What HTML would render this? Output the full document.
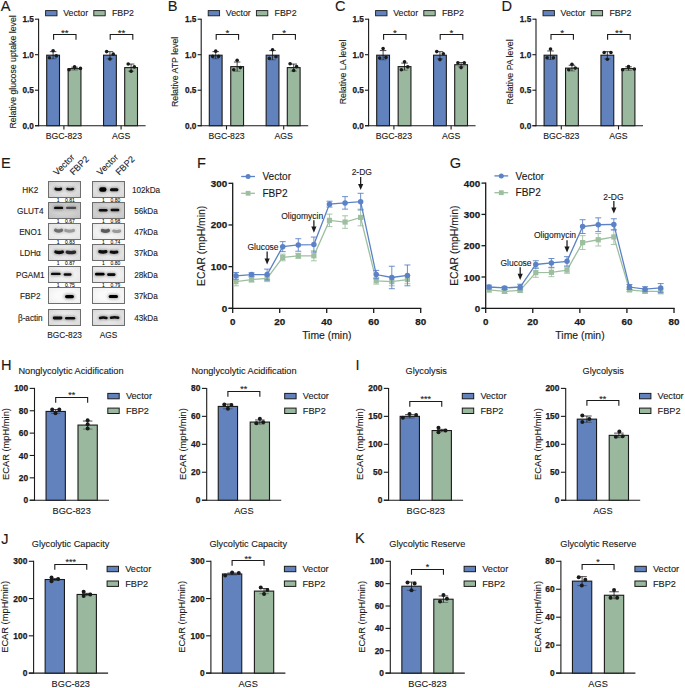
<!DOCTYPE html><html><head><meta charset="utf-8"><style>html,body{margin:0;padding:0;background:#fff;width:685px;height:688px;overflow:hidden}svg{display:block}</style></head><body><svg width="685" height="688" viewBox="0 0 685 688" font-family='"Liberation Sans", sans-serif'>
<rect width="685" height="688" fill="#fff"/>
<text x="0.80" y="11.00" font-size="14.6" text-anchor="start" fill="#1a1a1a" stroke="#1a1a1a" stroke-width="0.12">A</text>
<text x="167.80" y="10.90" font-size="14.6" text-anchor="start" fill="#1a1a1a" stroke="#1a1a1a" stroke-width="0.12">B</text>
<text x="335.00" y="10.90" font-size="14.6" text-anchor="start" fill="#1a1a1a" stroke="#1a1a1a" stroke-width="0.12">C</text>
<text x="501.50" y="10.90" font-size="14.6" text-anchor="start" fill="#1a1a1a" stroke="#1a1a1a" stroke-width="0.12">D</text>
<line x1="38.60" y1="18.70" x2="38.60" y2="126.20" stroke="#1a1a1a" stroke-width="1.1"/>
<line x1="35.00" y1="125.70" x2="38.60" y2="125.70" stroke="#1a1a1a" stroke-width="1.1"/>
<text x="33.80" y="128.65" font-size="8.2" font-weight="bold" text-anchor="end" fill="#1a1a1a" stroke="#1a1a1a" stroke-width="0.25">0.0</text>
<line x1="35.00" y1="90.20" x2="38.60" y2="90.20" stroke="#1a1a1a" stroke-width="1.1"/>
<text x="33.80" y="93.15" font-size="8.2" font-weight="bold" text-anchor="end" fill="#1a1a1a" stroke="#1a1a1a" stroke-width="0.25">0.5</text>
<line x1="35.00" y1="54.70" x2="38.60" y2="54.70" stroke="#1a1a1a" stroke-width="1.1"/>
<text x="33.80" y="57.65" font-size="8.2" font-weight="bold" text-anchor="end" fill="#1a1a1a" stroke="#1a1a1a" stroke-width="0.25">1.0</text>
<line x1="35.00" y1="19.20" x2="38.60" y2="19.20" stroke="#1a1a1a" stroke-width="1.1"/>
<text x="33.80" y="22.15" font-size="8.2" font-weight="bold" text-anchor="end" fill="#1a1a1a" stroke="#1a1a1a" stroke-width="0.25">1.5</text>
<line x1="35.00" y1="125.70" x2="145.60" y2="125.70" stroke="#1a1a1a" stroke-width="1.1"/>
<rect x="46.70" y="55.20" width="12.80" height="70.50" fill="#6282bd" stroke="#1a1a1a" stroke-width="1.1"/>
<line x1="53.10" y1="51.65" x2="53.10" y2="58.75" stroke="#1a1a1a" stroke-width="0.8"/>
<line x1="49.85" y1="51.65" x2="56.35" y2="51.65" stroke="#1a1a1a" stroke-width="0.8"/>
<line x1="49.85" y1="58.75" x2="56.35" y2="58.75" stroke="#000" stroke-width="0.8" stroke-opacity="0.45"/>
<circle cx="53.10" cy="50.80" r="1.80" fill="#1a1a1a" stroke="none" stroke-width="0"/>
<circle cx="49.40" cy="57.82" r="1.80" fill="#1a1a1a" stroke="none" stroke-width="0"/>
<circle cx="56.30" cy="55.91" r="1.80" fill="#1a1a1a" stroke="none" stroke-width="0"/>
<rect x="68.15" y="68.62" width="12.80" height="57.08" fill="#9ab89d" stroke="#1a1a1a" stroke-width="1.1"/>
<line x1="74.55" y1="67.20" x2="74.55" y2="70.04" stroke="#1a1a1a" stroke-width="0.8"/>
<line x1="71.30" y1="67.20" x2="77.80" y2="67.20" stroke="#1a1a1a" stroke-width="0.8"/>
<line x1="71.30" y1="70.04" x2="77.80" y2="70.04" stroke="#000" stroke-width="0.8" stroke-opacity="0.45"/>
<circle cx="74.55" cy="66.91" r="1.80" fill="#1a1a1a" stroke="none" stroke-width="0"/>
<circle cx="69.05" cy="69.82" r="1.80" fill="#1a1a1a" stroke="none" stroke-width="0"/>
<circle cx="80.45" cy="68.40" r="1.80" fill="#1a1a1a" stroke="none" stroke-width="0"/>
<rect x="103.55" y="55.20" width="12.80" height="70.50" fill="#6282bd" stroke="#1a1a1a" stroke-width="1.1"/>
<line x1="109.95" y1="51.65" x2="109.95" y2="58.75" stroke="#1a1a1a" stroke-width="0.8"/>
<line x1="106.70" y1="51.65" x2="113.20" y2="51.65" stroke="#1a1a1a" stroke-width="0.8"/>
<line x1="106.70" y1="58.75" x2="113.20" y2="58.75" stroke="#000" stroke-width="0.8" stroke-opacity="0.45"/>
<circle cx="106.65" cy="51.58" r="1.80" fill="#1a1a1a" stroke="none" stroke-width="0"/>
<circle cx="113.25" cy="54.13" r="1.80" fill="#1a1a1a" stroke="none" stroke-width="0"/>
<circle cx="109.95" cy="58.96" r="1.80" fill="#1a1a1a" stroke="none" stroke-width="0"/>
<rect x="124.70" y="67.62" width="12.80" height="58.08" fill="#9ab89d" stroke="#1a1a1a" stroke-width="1.1"/>
<line x1="131.10" y1="64.07" x2="131.10" y2="71.17" stroke="#1a1a1a" stroke-width="0.8"/>
<line x1="127.85" y1="64.07" x2="134.35" y2="64.07" stroke="#1a1a1a" stroke-width="0.8"/>
<line x1="127.85" y1="71.17" x2="134.35" y2="71.17" stroke="#000" stroke-width="0.8" stroke-opacity="0.45"/>
<circle cx="128.20" cy="64.00" r="1.80" fill="#1a1a1a" stroke="none" stroke-width="0"/>
<circle cx="134.30" cy="66.91" r="1.80" fill="#1a1a1a" stroke="none" stroke-width="0"/>
<circle cx="131.10" cy="71.31" r="1.80" fill="#1a1a1a" stroke="none" stroke-width="0"/>
<line x1="63.90" y1="125.70" x2="63.90" y2="129.50" stroke="#1a1a1a" stroke-width="1.1"/>
<text x="63.90" y="139.00" font-size="8.7" text-anchor="middle" fill="#1a1a1a" stroke="#1a1a1a" stroke-width="0.12">BGC-823</text>
<line x1="121.10" y1="125.70" x2="121.10" y2="129.50" stroke="#1a1a1a" stroke-width="1.1"/>
<text x="121.10" y="139.00" font-size="8.7" text-anchor="middle" fill="#1a1a1a" stroke="#1a1a1a" stroke-width="0.12">AGS</text>
<polyline points="53.60,39.70 53.60,34.50 76.00,34.50 76.00,39.70" fill="none" stroke="#1a1a1a" stroke-width="1.1"/>
<text x="64.80" y="36.25" font-size="9.8" text-anchor="middle" fill="#1a1a1a" stroke="#1a1a1a" stroke-width="0.12">**</text>
<polyline points="110.20,39.70 110.20,34.50 132.80,34.50 132.80,39.70" fill="none" stroke="#1a1a1a" stroke-width="1.1"/>
<text x="121.50" y="36.25" font-size="9.8" text-anchor="middle" fill="#1a1a1a" stroke="#1a1a1a" stroke-width="0.12">**</text>
<text x="15.60" y="71.90" font-size="8.75" text-anchor="middle" fill="#1a1a1a" transform="rotate(-90 15.60 71.90)" stroke="#1a1a1a" stroke-width="0.12">Relative glucose uptake level</text>
<rect x="45.60" y="10.60" width="11.40" height="5.20" fill="#6282bd" stroke="#1a1a1a" stroke-width="0.9"/>
<text x="63.20" y="16.30" font-size="8.8" text-anchor="start" fill="#1a1a1a" stroke="#1a1a1a" stroke-width="0.12">Vector</text>
<rect x="93.80" y="10.60" width="11.40" height="5.20" fill="#9ab89d" stroke="#1a1a1a" stroke-width="0.9"/>
<text x="112.00" y="16.30" font-size="8.8" text-anchor="start" fill="#1a1a1a" stroke="#1a1a1a" stroke-width="0.12">FBP2</text>
<line x1="201.20" y1="18.70" x2="201.20" y2="126.20" stroke="#1a1a1a" stroke-width="1.1"/>
<line x1="197.60" y1="125.70" x2="201.20" y2="125.70" stroke="#1a1a1a" stroke-width="1.1"/>
<text x="196.40" y="128.65" font-size="8.2" font-weight="bold" text-anchor="end" fill="#1a1a1a" stroke="#1a1a1a" stroke-width="0.25">0.0</text>
<line x1="197.60" y1="90.20" x2="201.20" y2="90.20" stroke="#1a1a1a" stroke-width="1.1"/>
<text x="196.40" y="93.15" font-size="8.2" font-weight="bold" text-anchor="end" fill="#1a1a1a" stroke="#1a1a1a" stroke-width="0.25">0.5</text>
<line x1="197.60" y1="54.70" x2="201.20" y2="54.70" stroke="#1a1a1a" stroke-width="1.1"/>
<text x="196.40" y="57.65" font-size="8.2" font-weight="bold" text-anchor="end" fill="#1a1a1a" stroke="#1a1a1a" stroke-width="0.25">1.0</text>
<line x1="197.60" y1="19.20" x2="201.20" y2="19.20" stroke="#1a1a1a" stroke-width="1.1"/>
<text x="196.40" y="22.15" font-size="8.2" font-weight="bold" text-anchor="end" fill="#1a1a1a" stroke="#1a1a1a" stroke-width="0.25">1.5</text>
<line x1="197.60" y1="125.70" x2="308.20" y2="125.70" stroke="#1a1a1a" stroke-width="1.1"/>
<rect x="209.30" y="55.20" width="12.80" height="70.50" fill="#6282bd" stroke="#1a1a1a" stroke-width="1.1"/>
<line x1="215.70" y1="51.65" x2="215.70" y2="58.75" stroke="#1a1a1a" stroke-width="0.8"/>
<line x1="212.45" y1="51.65" x2="218.95" y2="51.65" stroke="#1a1a1a" stroke-width="0.8"/>
<line x1="212.45" y1="58.75" x2="218.95" y2="58.75" stroke="#000" stroke-width="0.8" stroke-opacity="0.45"/>
<circle cx="215.70" cy="51.15" r="1.80" fill="#1a1a1a" stroke="none" stroke-width="0"/>
<circle cx="212.70" cy="56.40" r="1.80" fill="#1a1a1a" stroke="none" stroke-width="0"/>
<circle cx="218.60" cy="56.40" r="1.80" fill="#1a1a1a" stroke="none" stroke-width="0"/>
<rect x="230.75" y="66.63" width="12.80" height="59.07" fill="#9ab89d" stroke="#1a1a1a" stroke-width="1.1"/>
<line x1="237.15" y1="62.01" x2="237.15" y2="71.24" stroke="#1a1a1a" stroke-width="0.8"/>
<line x1="233.90" y1="62.01" x2="240.40" y2="62.01" stroke="#1a1a1a" stroke-width="0.8"/>
<line x1="233.90" y1="71.24" x2="240.40" y2="71.24" stroke="#000" stroke-width="0.8" stroke-opacity="0.45"/>
<circle cx="237.15" cy="60.31" r="1.80" fill="#1a1a1a" stroke="none" stroke-width="0"/>
<circle cx="233.75" cy="69.82" r="1.80" fill="#1a1a1a" stroke="none" stroke-width="0"/>
<circle cx="240.35" cy="67.62" r="1.80" fill="#1a1a1a" stroke="none" stroke-width="0"/>
<rect x="266.15" y="55.20" width="12.80" height="70.50" fill="#6282bd" stroke="#1a1a1a" stroke-width="1.1"/>
<line x1="272.55" y1="50.58" x2="272.55" y2="59.81" stroke="#1a1a1a" stroke-width="0.8"/>
<line x1="269.30" y1="50.58" x2="275.80" y2="50.58" stroke="#1a1a1a" stroke-width="0.8"/>
<line x1="269.30" y1="59.81" x2="275.80" y2="59.81" stroke="#000" stroke-width="0.8" stroke-opacity="0.45"/>
<circle cx="272.55" cy="49.73" r="1.80" fill="#1a1a1a" stroke="none" stroke-width="0"/>
<circle cx="269.35" cy="58.39" r="1.80" fill="#1a1a1a" stroke="none" stroke-width="0"/>
<circle cx="275.95" cy="56.69" r="1.80" fill="#1a1a1a" stroke="none" stroke-width="0"/>
<rect x="287.30" y="67.62" width="12.80" height="58.08" fill="#9ab89d" stroke="#1a1a1a" stroke-width="1.1"/>
<line x1="293.70" y1="64.07" x2="293.70" y2="71.17" stroke="#1a1a1a" stroke-width="0.8"/>
<line x1="290.45" y1="64.07" x2="296.95" y2="64.07" stroke="#1a1a1a" stroke-width="0.8"/>
<line x1="290.45" y1="71.17" x2="296.95" y2="71.17" stroke="#000" stroke-width="0.8" stroke-opacity="0.45"/>
<circle cx="290.10" cy="63.72" r="1.80" fill="#1a1a1a" stroke="none" stroke-width="0"/>
<circle cx="296.60" cy="66.63" r="1.80" fill="#1a1a1a" stroke="none" stroke-width="0"/>
<circle cx="293.70" cy="70.53" r="1.80" fill="#1a1a1a" stroke="none" stroke-width="0"/>
<line x1="226.50" y1="125.70" x2="226.50" y2="129.50" stroke="#1a1a1a" stroke-width="1.1"/>
<text x="226.50" y="139.00" font-size="8.7" text-anchor="middle" fill="#1a1a1a" stroke="#1a1a1a" stroke-width="0.12">BGC-823</text>
<line x1="283.70" y1="125.70" x2="283.70" y2="129.50" stroke="#1a1a1a" stroke-width="1.1"/>
<text x="283.70" y="139.00" font-size="8.7" text-anchor="middle" fill="#1a1a1a" stroke="#1a1a1a" stroke-width="0.12">AGS</text>
<polyline points="216.20,39.70 216.20,34.50 238.60,34.50 238.60,39.70" fill="none" stroke="#1a1a1a" stroke-width="1.1"/>
<text x="227.40" y="36.25" font-size="9.8" text-anchor="middle" fill="#1a1a1a" stroke="#1a1a1a" stroke-width="0.12">*</text>
<polyline points="272.80,39.70 272.80,34.50 295.40,34.50 295.40,39.70" fill="none" stroke="#1a1a1a" stroke-width="1.1"/>
<text x="284.10" y="36.25" font-size="9.8" text-anchor="middle" fill="#1a1a1a" stroke="#1a1a1a" stroke-width="0.12">*</text>
<text x="178.20" y="71.90" font-size="8.75" text-anchor="middle" fill="#1a1a1a" transform="rotate(-90 178.20 71.90)" stroke="#1a1a1a" stroke-width="0.12">Relative ATP level</text>
<rect x="208.20" y="10.60" width="11.40" height="5.20" fill="#6282bd" stroke="#1a1a1a" stroke-width="0.9"/>
<text x="225.80" y="16.30" font-size="8.8" text-anchor="start" fill="#1a1a1a" stroke="#1a1a1a" stroke-width="0.12">Vector</text>
<rect x="256.40" y="10.60" width="11.40" height="5.20" fill="#9ab89d" stroke="#1a1a1a" stroke-width="0.9"/>
<text x="274.60" y="16.30" font-size="8.8" text-anchor="start" fill="#1a1a1a" stroke="#1a1a1a" stroke-width="0.12">FBP2</text>
<line x1="368.60" y1="18.70" x2="368.60" y2="126.20" stroke="#1a1a1a" stroke-width="1.1"/>
<line x1="365.00" y1="125.70" x2="368.60" y2="125.70" stroke="#1a1a1a" stroke-width="1.1"/>
<text x="363.80" y="128.65" font-size="8.2" font-weight="bold" text-anchor="end" fill="#1a1a1a" stroke="#1a1a1a" stroke-width="0.25">0.0</text>
<line x1="365.00" y1="90.20" x2="368.60" y2="90.20" stroke="#1a1a1a" stroke-width="1.1"/>
<text x="363.80" y="93.15" font-size="8.2" font-weight="bold" text-anchor="end" fill="#1a1a1a" stroke="#1a1a1a" stroke-width="0.25">0.5</text>
<line x1="365.00" y1="54.70" x2="368.60" y2="54.70" stroke="#1a1a1a" stroke-width="1.1"/>
<text x="363.80" y="57.65" font-size="8.2" font-weight="bold" text-anchor="end" fill="#1a1a1a" stroke="#1a1a1a" stroke-width="0.25">1.0</text>
<line x1="365.00" y1="19.20" x2="368.60" y2="19.20" stroke="#1a1a1a" stroke-width="1.1"/>
<text x="363.80" y="22.15" font-size="8.2" font-weight="bold" text-anchor="end" fill="#1a1a1a" stroke="#1a1a1a" stroke-width="0.25">1.5</text>
<line x1="365.00" y1="125.70" x2="475.60" y2="125.70" stroke="#1a1a1a" stroke-width="1.1"/>
<rect x="376.70" y="55.20" width="12.80" height="70.50" fill="#6282bd" stroke="#1a1a1a" stroke-width="1.1"/>
<line x1="383.10" y1="50.58" x2="383.10" y2="59.81" stroke="#1a1a1a" stroke-width="0.8"/>
<line x1="379.85" y1="50.58" x2="386.35" y2="50.58" stroke="#1a1a1a" stroke-width="0.8"/>
<line x1="379.85" y1="59.81" x2="386.35" y2="59.81" stroke="#000" stroke-width="0.8" stroke-opacity="0.45"/>
<circle cx="383.10" cy="48.59" r="1.80" fill="#1a1a1a" stroke="none" stroke-width="0"/>
<circle cx="379.70" cy="58.11" r="1.80" fill="#1a1a1a" stroke="none" stroke-width="0"/>
<circle cx="386.00" cy="57.40" r="1.80" fill="#1a1a1a" stroke="none" stroke-width="0"/>
<rect x="398.15" y="66.63" width="12.80" height="59.07" fill="#9ab89d" stroke="#1a1a1a" stroke-width="1.1"/>
<line x1="404.55" y1="63.08" x2="404.55" y2="70.18" stroke="#1a1a1a" stroke-width="0.8"/>
<line x1="401.30" y1="63.08" x2="407.80" y2="63.08" stroke="#1a1a1a" stroke-width="0.8"/>
<line x1="401.30" y1="70.18" x2="407.80" y2="70.18" stroke="#000" stroke-width="0.8" stroke-opacity="0.45"/>
<circle cx="404.55" cy="61.80" r="1.80" fill="#1a1a1a" stroke="none" stroke-width="0"/>
<circle cx="401.35" cy="69.82" r="1.80" fill="#1a1a1a" stroke="none" stroke-width="0"/>
<circle cx="407.75" cy="66.91" r="1.80" fill="#1a1a1a" stroke="none" stroke-width="0"/>
<rect x="433.55" y="55.20" width="12.80" height="70.50" fill="#6282bd" stroke="#1a1a1a" stroke-width="1.1"/>
<line x1="439.95" y1="51.65" x2="439.95" y2="58.75" stroke="#1a1a1a" stroke-width="0.8"/>
<line x1="436.70" y1="51.65" x2="443.20" y2="51.65" stroke="#1a1a1a" stroke-width="0.8"/>
<line x1="436.70" y1="58.75" x2="443.20" y2="58.75" stroke="#000" stroke-width="0.8" stroke-opacity="0.45"/>
<circle cx="436.75" cy="51.58" r="1.80" fill="#1a1a1a" stroke="none" stroke-width="0"/>
<circle cx="443.35" cy="53.78" r="1.80" fill="#1a1a1a" stroke="none" stroke-width="0"/>
<circle cx="439.95" cy="59.60" r="1.80" fill="#1a1a1a" stroke="none" stroke-width="0"/>
<rect x="454.70" y="64.71" width="12.80" height="60.99" fill="#9ab89d" stroke="#1a1a1a" stroke-width="1.1"/>
<line x1="461.10" y1="62.58" x2="461.10" y2="66.84" stroke="#1a1a1a" stroke-width="0.8"/>
<line x1="457.85" y1="62.58" x2="464.35" y2="62.58" stroke="#1a1a1a" stroke-width="0.8"/>
<line x1="457.85" y1="66.84" x2="464.35" y2="66.84" stroke="#000" stroke-width="0.8" stroke-opacity="0.45"/>
<circle cx="457.90" cy="62.79" r="1.80" fill="#1a1a1a" stroke="none" stroke-width="0"/>
<circle cx="464.30" cy="62.79" r="1.80" fill="#1a1a1a" stroke="none" stroke-width="0"/>
<circle cx="461.10" cy="67.62" r="1.80" fill="#1a1a1a" stroke="none" stroke-width="0"/>
<line x1="393.90" y1="125.70" x2="393.90" y2="129.50" stroke="#1a1a1a" stroke-width="1.1"/>
<text x="393.90" y="139.00" font-size="8.7" text-anchor="middle" fill="#1a1a1a" stroke="#1a1a1a" stroke-width="0.12">BGC-823</text>
<line x1="451.10" y1="125.70" x2="451.10" y2="129.50" stroke="#1a1a1a" stroke-width="1.1"/>
<text x="451.10" y="139.00" font-size="8.7" text-anchor="middle" fill="#1a1a1a" stroke="#1a1a1a" stroke-width="0.12">AGS</text>
<polyline points="383.60,39.70 383.60,34.50 406.00,34.50 406.00,39.70" fill="none" stroke="#1a1a1a" stroke-width="1.1"/>
<text x="394.80" y="36.25" font-size="9.8" text-anchor="middle" fill="#1a1a1a" stroke="#1a1a1a" stroke-width="0.12">*</text>
<polyline points="440.20,39.70 440.20,34.50 462.80,34.50 462.80,39.70" fill="none" stroke="#1a1a1a" stroke-width="1.1"/>
<text x="451.50" y="36.25" font-size="9.8" text-anchor="middle" fill="#1a1a1a" stroke="#1a1a1a" stroke-width="0.12">*</text>
<text x="345.60" y="71.90" font-size="8.75" text-anchor="middle" fill="#1a1a1a" transform="rotate(-90 345.60 71.90)" stroke="#1a1a1a" stroke-width="0.12">Relative LA level</text>
<rect x="375.60" y="10.60" width="11.40" height="5.20" fill="#6282bd" stroke="#1a1a1a" stroke-width="0.9"/>
<text x="393.20" y="16.30" font-size="8.8" text-anchor="start" fill="#1a1a1a" stroke="#1a1a1a" stroke-width="0.12">Vector</text>
<rect x="423.80" y="10.60" width="11.40" height="5.20" fill="#9ab89d" stroke="#1a1a1a" stroke-width="0.9"/>
<text x="442.00" y="16.30" font-size="8.8" text-anchor="start" fill="#1a1a1a" stroke="#1a1a1a" stroke-width="0.12">FBP2</text>
<line x1="536.00" y1="18.70" x2="536.00" y2="126.20" stroke="#1a1a1a" stroke-width="1.1"/>
<line x1="532.40" y1="125.70" x2="536.00" y2="125.70" stroke="#1a1a1a" stroke-width="1.1"/>
<text x="531.20" y="128.65" font-size="8.2" font-weight="bold" text-anchor="end" fill="#1a1a1a" stroke="#1a1a1a" stroke-width="0.25">0.0</text>
<line x1="532.40" y1="90.20" x2="536.00" y2="90.20" stroke="#1a1a1a" stroke-width="1.1"/>
<text x="531.20" y="93.15" font-size="8.2" font-weight="bold" text-anchor="end" fill="#1a1a1a" stroke="#1a1a1a" stroke-width="0.25">0.5</text>
<line x1="532.40" y1="54.70" x2="536.00" y2="54.70" stroke="#1a1a1a" stroke-width="1.1"/>
<text x="531.20" y="57.65" font-size="8.2" font-weight="bold" text-anchor="end" fill="#1a1a1a" stroke="#1a1a1a" stroke-width="0.25">1.0</text>
<line x1="532.40" y1="19.20" x2="536.00" y2="19.20" stroke="#1a1a1a" stroke-width="1.1"/>
<text x="531.20" y="22.15" font-size="8.2" font-weight="bold" text-anchor="end" fill="#1a1a1a" stroke="#1a1a1a" stroke-width="0.25">1.5</text>
<line x1="532.40" y1="125.70" x2="643.00" y2="125.70" stroke="#1a1a1a" stroke-width="1.1"/>
<rect x="544.10" y="55.20" width="12.80" height="70.50" fill="#6282bd" stroke="#1a1a1a" stroke-width="1.1"/>
<line x1="550.50" y1="50.94" x2="550.50" y2="59.46" stroke="#1a1a1a" stroke-width="0.8"/>
<line x1="547.25" y1="50.94" x2="553.75" y2="50.94" stroke="#1a1a1a" stroke-width="0.8"/>
<line x1="547.25" y1="59.46" x2="553.75" y2="59.46" stroke="#000" stroke-width="0.8" stroke-opacity="0.45"/>
<circle cx="550.50" cy="49.09" r="1.80" fill="#1a1a1a" stroke="none" stroke-width="0"/>
<circle cx="547.10" cy="57.82" r="1.80" fill="#1a1a1a" stroke="none" stroke-width="0"/>
<circle cx="553.40" cy="57.82" r="1.80" fill="#1a1a1a" stroke="none" stroke-width="0"/>
<rect x="565.55" y="68.12" width="12.80" height="57.58" fill="#9ab89d" stroke="#1a1a1a" stroke-width="1.1"/>
<line x1="571.95" y1="65.28" x2="571.95" y2="70.96" stroke="#1a1a1a" stroke-width="0.8"/>
<line x1="568.70" y1="65.28" x2="575.20" y2="65.28" stroke="#1a1a1a" stroke-width="0.8"/>
<line x1="568.70" y1="70.96" x2="575.20" y2="70.96" stroke="#000" stroke-width="0.8" stroke-opacity="0.45"/>
<circle cx="571.95" cy="64.28" r="1.80" fill="#1a1a1a" stroke="none" stroke-width="0"/>
<circle cx="568.75" cy="69.82" r="1.80" fill="#1a1a1a" stroke="none" stroke-width="0"/>
<circle cx="575.25" cy="68.12" r="1.80" fill="#1a1a1a" stroke="none" stroke-width="0"/>
<rect x="600.95" y="55.20" width="12.80" height="70.50" fill="#6282bd" stroke="#1a1a1a" stroke-width="1.1"/>
<line x1="607.35" y1="51.65" x2="607.35" y2="58.75" stroke="#1a1a1a" stroke-width="0.8"/>
<line x1="604.10" y1="51.65" x2="610.60" y2="51.65" stroke="#1a1a1a" stroke-width="0.8"/>
<line x1="604.10" y1="58.75" x2="610.60" y2="58.75" stroke="#000" stroke-width="0.8" stroke-opacity="0.45"/>
<circle cx="604.15" cy="52.57" r="1.80" fill="#1a1a1a" stroke="none" stroke-width="0"/>
<circle cx="610.95" cy="52.57" r="1.80" fill="#1a1a1a" stroke="none" stroke-width="0"/>
<circle cx="607.35" cy="59.31" r="1.80" fill="#1a1a1a" stroke="none" stroke-width="0"/>
<rect x="622.10" y="68.62" width="12.80" height="57.08" fill="#9ab89d" stroke="#1a1a1a" stroke-width="1.1"/>
<line x1="628.50" y1="66.84" x2="628.50" y2="70.39" stroke="#1a1a1a" stroke-width="0.8"/>
<line x1="625.25" y1="66.84" x2="631.75" y2="66.84" stroke="#1a1a1a" stroke-width="0.8"/>
<line x1="625.25" y1="70.39" x2="631.75" y2="70.39" stroke="#000" stroke-width="0.8" stroke-opacity="0.45"/>
<circle cx="628.50" cy="66.63" r="1.80" fill="#1a1a1a" stroke="none" stroke-width="0"/>
<circle cx="622.70" cy="69.82" r="1.80" fill="#1a1a1a" stroke="none" stroke-width="0"/>
<circle cx="634.30" cy="69.11" r="1.80" fill="#1a1a1a" stroke="none" stroke-width="0"/>
<line x1="561.30" y1="125.70" x2="561.30" y2="129.50" stroke="#1a1a1a" stroke-width="1.1"/>
<text x="561.30" y="139.00" font-size="8.7" text-anchor="middle" fill="#1a1a1a" stroke="#1a1a1a" stroke-width="0.12">BGC-823</text>
<line x1="618.50" y1="125.70" x2="618.50" y2="129.50" stroke="#1a1a1a" stroke-width="1.1"/>
<text x="618.50" y="139.00" font-size="8.7" text-anchor="middle" fill="#1a1a1a" stroke="#1a1a1a" stroke-width="0.12">AGS</text>
<polyline points="551.00,39.70 551.00,34.50 573.40,34.50 573.40,39.70" fill="none" stroke="#1a1a1a" stroke-width="1.1"/>
<text x="562.20" y="36.25" font-size="9.8" text-anchor="middle" fill="#1a1a1a" stroke="#1a1a1a" stroke-width="0.12">*</text>
<polyline points="607.60,39.70 607.60,34.50 630.20,34.50 630.20,39.70" fill="none" stroke="#1a1a1a" stroke-width="1.1"/>
<text x="618.90" y="36.25" font-size="9.8" text-anchor="middle" fill="#1a1a1a" stroke="#1a1a1a" stroke-width="0.12">**</text>
<text x="513.00" y="71.90" font-size="8.75" text-anchor="middle" fill="#1a1a1a" transform="rotate(-90 513.00 71.90)" stroke="#1a1a1a" stroke-width="0.12">Relative PA level</text>
<rect x="543.00" y="10.60" width="11.40" height="5.20" fill="#6282bd" stroke="#1a1a1a" stroke-width="0.9"/>
<text x="560.60" y="16.30" font-size="8.8" text-anchor="start" fill="#1a1a1a" stroke="#1a1a1a" stroke-width="0.12">Vector</text>
<rect x="591.20" y="10.60" width="11.40" height="5.20" fill="#9ab89d" stroke="#1a1a1a" stroke-width="0.9"/>
<text x="609.40" y="16.30" font-size="8.8" text-anchor="start" fill="#1a1a1a" stroke="#1a1a1a" stroke-width="0.12">FBP2</text>
<text x="1.00" y="168.00" font-size="14.6" text-anchor="start" fill="#1a1a1a" stroke="#1a1a1a" stroke-width="0.12">E</text>
<defs><filter id="bl" filterUnits="userSpaceOnUse" x="40" y="170" width="100" height="170"><feGaussianBlur stdDeviation="0.55"/></filter><filter id="bl2" filterUnits="userSpaceOnUse" x="40" y="170" width="100" height="170"><feGaussianBlur stdDeviation="1.4"/></filter><radialGradient id="gb0" cx="0.5" cy="0.5" r="0.75"><stop offset="0.35" stop-color="#e6e6e6"/><stop offset="1" stop-color="#c9c9c9"/></radialGradient><radialGradient id="gb1" cx="0.5" cy="0.5" r="0.75"><stop offset="0.35" stop-color="#d2d2d2"/><stop offset="1" stop-color="#bdbdbd"/></radialGradient><radialGradient id="gb2" cx="0.5" cy="0.5" r="0.75"><stop offset="0.35" stop-color="#f1f1f1"/><stop offset="1" stop-color="#dedede"/></radialGradient><radialGradient id="gb3" cx="0.5" cy="0.5" r="0.75"><stop offset="0.35" stop-color="#ececec"/><stop offset="1" stop-color="#d6d6d6"/></radialGradient><radialGradient id="gb4" cx="0.5" cy="0.5" r="0.75"><stop offset="0.35" stop-color="#f4f4f4"/><stop offset="1" stop-color="#e2e2e2"/></radialGradient><radialGradient id="gb5" cx="0.5" cy="0.5" r="0.75"><stop offset="0.35" stop-color="#fafafa"/><stop offset="1" stop-color="#ececec"/></radialGradient><radialGradient id="gb6" cx="0.5" cy="0.5" r="0.75"><stop offset="0.35" stop-color="#ebebeb"/><stop offset="1" stop-color="#d2d2d2"/></radialGradient><radialGradient id="ga0" cx="0.5" cy="0.5" r="0.75"><stop offset="0.35" stop-color="#e9e9e9"/><stop offset="1" stop-color="#cfcfcf"/></radialGradient><radialGradient id="ga1" cx="0.5" cy="0.5" r="0.75"><stop offset="0.35" stop-color="#d6d6d6"/><stop offset="1" stop-color="#c2c2c2"/></radialGradient><radialGradient id="ga2" cx="0.5" cy="0.5" r="0.75"><stop offset="0.35" stop-color="#f6f6f6"/><stop offset="1" stop-color="#e4e4e4"/></radialGradient><radialGradient id="ga3" cx="0.5" cy="0.5" r="0.75"><stop offset="0.35" stop-color="#ebebeb"/><stop offset="1" stop-color="#d4d4d4"/></radialGradient><radialGradient id="ga4" cx="0.5" cy="0.5" r="0.75"><stop offset="0.35" stop-color="#f4f4f4"/><stop offset="1" stop-color="#e0e0e0"/></radialGradient><radialGradient id="ga5" cx="0.5" cy="0.5" r="0.75"><stop offset="0.35" stop-color="#fafafa"/><stop offset="1" stop-color="#ececec"/></radialGradient><radialGradient id="ga6" cx="0.5" cy="0.5" r="0.75"><stop offset="0.35" stop-color="#ebebeb"/><stop offset="1" stop-color="#d2d2d2"/></radialGradient></defs>
<rect x="48.5" y="181.5" width="32" height="16.0" fill="url(#gb0)"/>
<rect x="92.5" y="181.5" width="32" height="16.0" fill="url(#ga0)"/>
<path d="M55.75,188.90 Q58.30,189.90 60.85,188.90" fill="none" stroke="#080808" stroke-opacity="0.35" stroke-width="4.50" stroke-linecap="round" filter="url(#bl2)"/>
<path d="M55.75,188.90 Q58.30,189.90 60.85,188.90" fill="none" stroke="#080808" stroke-width="2.70" stroke-linecap="round" filter="url(#bl)"/>
<path d="M67.40,188.90 Q70.20,189.90 73.00,188.90" fill="none" stroke="#151515" stroke-opacity="0.35" stroke-width="4.20" stroke-linecap="round" filter="url(#bl2)"/>
<path d="M67.40,188.90 Q70.20,189.90 73.00,188.90" fill="none" stroke="#151515" stroke-width="2.40" stroke-linecap="round" filter="url(#bl)"/>
<path d="M101.50,189.50 Q102.85,189.50 104.20,189.50" fill="none" stroke="#050505" stroke-opacity="0.35" stroke-width="6.40" stroke-linecap="round" filter="url(#bl2)"/>
<path d="M101.50,189.50 Q102.85,189.50 104.20,189.50" fill="none" stroke="#050505" stroke-width="4.60" stroke-linecap="round" filter="url(#bl)"/>
<path d="M111.50,189.70 Q114.20,189.70 116.90,189.70" fill="none" stroke="#080808" stroke-opacity="0.35" stroke-width="4.80" stroke-linecap="round" filter="url(#bl2)"/>
<path d="M111.50,189.70 Q114.20,189.70 116.90,189.70" fill="none" stroke="#080808" stroke-width="3.00" stroke-linecap="round" filter="url(#bl)"/>
<rect x="48.5" y="181.5" width="32" height="16.0" fill="none" stroke="#6e6e6e" stroke-width="1"/>
<rect x="92.5" y="181.5" width="32" height="16.0" fill="none" stroke="#6e6e6e" stroke-width="1"/>
<text x="30.30" y="192.50" font-size="8.2" text-anchor="middle" fill="#222" stroke="#222" stroke-width="0.12">HK2</text>
<text x="146.00" y="192.50" font-size="8.2" text-anchor="middle" fill="#222" stroke="#222" stroke-width="0.12">102kDa</text>
<text x="58.10" y="201.80" font-size="5.0" text-anchor="middle" fill="#000" stroke="#000" stroke-width="0.05">1</text>
<text x="69.90" y="201.80" font-size="5.0" text-anchor="middle" fill="#000" stroke="#000" stroke-width="0.05">0.81</text>
<text x="103.30" y="201.80" font-size="5.0" text-anchor="middle" fill="#000" stroke="#000" stroke-width="0.05">1</text>
<text x="115.40" y="201.80" font-size="5.0" text-anchor="middle" fill="#000" stroke="#000" stroke-width="0.05">0.80</text>
<rect x="48.5" y="202.5" width="32" height="16.0" fill="url(#gb1)"/>
<rect x="92.5" y="202.5" width="32" height="16.0" fill="url(#ga1)"/>
<path d="M55.20,207.90 Q58.60,207.90 62.00,207.90" fill="none" stroke="#0c0c0c" stroke-opacity="0.35" stroke-width="4.20" stroke-linecap="round" filter="url(#bl2)"/>
<path d="M55.20,207.90 Q58.60,207.90 62.00,207.90" fill="none" stroke="#0c0c0c" stroke-width="2.40" stroke-linecap="round" filter="url(#bl)"/>
<path d="M67.05,207.90 Q71.10,207.90 75.15,207.90" fill="none" stroke="#4a4a4a" stroke-opacity="0.35" stroke-width="3.90" stroke-linecap="round" filter="url(#bl2)"/>
<path d="M67.05,207.90 Q71.10,207.90 75.15,207.90" fill="none" stroke="#4a4a4a" stroke-width="2.10" stroke-linecap="round" filter="url(#bl)"/>
<path d="M100.00,210.20 Q103.15,210.20 106.30,210.20" fill="none" stroke="#0a0a0a" stroke-opacity="0.35" stroke-width="4.20" stroke-linecap="round" filter="url(#bl2)"/>
<path d="M100.00,210.20 Q103.15,210.20 106.30,210.20" fill="none" stroke="#0a0a0a" stroke-width="2.40" stroke-linecap="round" filter="url(#bl)"/>
<path d="M111.80,210.00 Q114.95,210.00 118.10,210.00" fill="none" stroke="#0a0a0a" stroke-opacity="0.35" stroke-width="4.20" stroke-linecap="round" filter="url(#bl2)"/>
<path d="M111.80,210.00 Q114.95,210.00 118.10,210.00" fill="none" stroke="#0a0a0a" stroke-width="2.40" stroke-linecap="round" filter="url(#bl)"/>
<rect x="48.5" y="202.5" width="32" height="16.0" fill="none" stroke="#6e6e6e" stroke-width="1"/>
<rect x="92.5" y="202.5" width="32" height="16.0" fill="none" stroke="#6e6e6e" stroke-width="1"/>
<text x="30.30" y="213.50" font-size="8.2" text-anchor="middle" fill="#222" stroke="#222" stroke-width="0.12">GLUT4</text>
<text x="146.00" y="213.50" font-size="8.2" text-anchor="middle" fill="#222" stroke="#222" stroke-width="0.12">56kDa</text>
<text x="58.10" y="222.80" font-size="5.0" text-anchor="middle" fill="#000" stroke="#000" stroke-width="0.05">1</text>
<text x="69.90" y="222.80" font-size="5.0" text-anchor="middle" fill="#000" stroke="#000" stroke-width="0.05">0.67</text>
<text x="103.30" y="222.80" font-size="5.0" text-anchor="middle" fill="#000" stroke="#000" stroke-width="0.05">1</text>
<text x="115.40" y="222.80" font-size="5.0" text-anchor="middle" fill="#000" stroke="#000" stroke-width="0.05">0.98</text>
<rect x="48.5" y="223.5" width="32" height="16.0" fill="url(#gb2)"/>
<rect x="92.5" y="223.5" width="32" height="16.0" fill="url(#ga2)"/>
<path d="M55.70,230.30 Q58.60,231.70 61.50,230.30" fill="none" stroke="#6e6e6e" stroke-opacity="0.35" stroke-width="5.20" stroke-linecap="round" filter="url(#bl2)"/>
<path d="M55.70,230.30 Q58.60,231.70 61.50,230.30" fill="none" stroke="#6e6e6e" stroke-width="3.40" stroke-linecap="round" filter="url(#bl)"/>
<path d="M65.80,230.50 Q69.60,231.90 73.40,230.50" fill="none" stroke="#9a9a9a" stroke-opacity="0.35" stroke-width="5.00" stroke-linecap="round" filter="url(#bl2)"/>
<path d="M65.80,230.50 Q69.60,231.90 73.40,230.50" fill="none" stroke="#9a9a9a" stroke-width="3.20" stroke-linecap="round" filter="url(#bl)"/>
<path d="M102.50,230.60 Q105.40,231.80 108.30,230.60" fill="none" stroke="#5a5a5a" stroke-opacity="0.35" stroke-width="5.20" stroke-linecap="round" filter="url(#bl2)"/>
<path d="M102.50,230.60 Q105.40,231.80 108.30,230.60" fill="none" stroke="#5a5a5a" stroke-width="3.40" stroke-linecap="round" filter="url(#bl)"/>
<path d="M113.70,231.00 Q116.70,232.00 119.70,231.00" fill="none" stroke="#9a9a9a" stroke-opacity="0.35" stroke-width="4.80" stroke-linecap="round" filter="url(#bl2)"/>
<path d="M113.70,231.00 Q116.70,232.00 119.70,231.00" fill="none" stroke="#9a9a9a" stroke-width="3.00" stroke-linecap="round" filter="url(#bl)"/>
<rect x="48.5" y="223.5" width="32" height="16.0" fill="none" stroke="#6e6e6e" stroke-width="1"/>
<rect x="92.5" y="223.5" width="32" height="16.0" fill="none" stroke="#6e6e6e" stroke-width="1"/>
<text x="30.30" y="234.50" font-size="8.2" text-anchor="middle" fill="#222" stroke="#222" stroke-width="0.12">ENO1</text>
<text x="146.00" y="234.50" font-size="8.2" text-anchor="middle" fill="#222" stroke="#222" stroke-width="0.12">47kDa</text>
<text x="58.10" y="243.80" font-size="5.0" text-anchor="middle" fill="#000" stroke="#000" stroke-width="0.05">1</text>
<text x="69.90" y="243.80" font-size="5.0" text-anchor="middle" fill="#000" stroke="#000" stroke-width="0.05">0.83</text>
<text x="103.30" y="243.80" font-size="5.0" text-anchor="middle" fill="#000" stroke="#000" stroke-width="0.05">1</text>
<text x="115.40" y="243.80" font-size="5.0" text-anchor="middle" fill="#000" stroke="#000" stroke-width="0.05">0.74</text>
<rect x="48.5" y="244.5" width="32" height="16.0" fill="url(#gb3)"/>
<rect x="92.5" y="244.5" width="32" height="16.0" fill="url(#ga3)"/>
<path d="M55.90,252.00 Q59.10,253.00 62.30,252.00" fill="none" stroke="#101010" stroke-opacity="0.35" stroke-width="5.20" stroke-linecap="round" filter="url(#bl2)"/>
<path d="M55.90,252.00 Q59.10,253.00 62.30,252.00" fill="none" stroke="#101010" stroke-width="3.40" stroke-linecap="round" filter="url(#bl)"/>
<path d="M67.20,252.10 Q70.90,253.10 74.60,252.10" fill="none" stroke="#2a2a2a" stroke-opacity="0.35" stroke-width="5.00" stroke-linecap="round" filter="url(#bl2)"/>
<path d="M67.20,252.10 Q70.90,253.10 74.60,252.10" fill="none" stroke="#2a2a2a" stroke-width="3.20" stroke-linecap="round" filter="url(#bl)"/>
<path d="M99.90,251.70 Q102.85,252.30 105.80,251.70" fill="none" stroke="#0a0a0a" stroke-opacity="0.35" stroke-width="5.20" stroke-linecap="round" filter="url(#bl2)"/>
<path d="M99.90,251.70 Q102.85,252.30 105.80,251.70" fill="none" stroke="#0a0a0a" stroke-width="3.40" stroke-linecap="round" filter="url(#bl)"/>
<path d="M111.20,252.00 Q114.00,252.60 116.80,252.00" fill="none" stroke="#101010" stroke-opacity="0.35" stroke-width="5.00" stroke-linecap="round" filter="url(#bl2)"/>
<path d="M111.20,252.00 Q114.00,252.60 116.80,252.00" fill="none" stroke="#101010" stroke-width="3.20" stroke-linecap="round" filter="url(#bl)"/>
<rect x="48.5" y="244.5" width="32" height="16.0" fill="none" stroke="#6e6e6e" stroke-width="1"/>
<rect x="92.5" y="244.5" width="32" height="16.0" fill="none" stroke="#6e6e6e" stroke-width="1"/>
<text x="30.30" y="255.50" font-size="8.2" text-anchor="middle" fill="#222" stroke="#222" stroke-width="0.12">LDHα</text>
<text x="146.00" y="255.50" font-size="8.2" text-anchor="middle" fill="#222" stroke="#222" stroke-width="0.12">37kDa</text>
<text x="58.10" y="264.80" font-size="5.0" text-anchor="middle" fill="#000" stroke="#000" stroke-width="0.05">1</text>
<text x="69.90" y="264.80" font-size="5.0" text-anchor="middle" fill="#000" stroke="#000" stroke-width="0.05">0.87</text>
<text x="103.30" y="264.80" font-size="5.0" text-anchor="middle" fill="#000" stroke="#000" stroke-width="0.05">1</text>
<text x="115.40" y="264.80" font-size="5.0" text-anchor="middle" fill="#000" stroke="#000" stroke-width="0.05">0.80</text>
<rect x="48.5" y="266.5" width="32" height="16.0" fill="url(#gb4)"/>
<rect x="92.5" y="266.5" width="32" height="16.0" fill="url(#ga4)"/>
<path d="M52.20,273.90 Q55.80,273.90 59.40,273.90" fill="none" stroke="#080808" stroke-opacity="0.35" stroke-width="4.20" stroke-linecap="round" filter="url(#bl2)"/>
<path d="M52.20,273.90 Q55.80,273.90 59.40,273.90" fill="none" stroke="#080808" stroke-width="2.40" stroke-linecap="round" filter="url(#bl)"/>
<path d="M64.90,274.50 Q67.60,274.50 70.30,274.50" fill="none" stroke="#0c0c0c" stroke-opacity="0.35" stroke-width="4.20" stroke-linecap="round" filter="url(#bl2)"/>
<path d="M64.90,274.50 Q67.60,274.50 70.30,274.50" fill="none" stroke="#0c0c0c" stroke-width="2.40" stroke-linecap="round" filter="url(#bl)"/>
<path d="M96.40,274.20 Q99.80,274.20 103.20,274.20" fill="none" stroke="#060606" stroke-opacity="0.35" stroke-width="4.60" stroke-linecap="round" filter="url(#bl2)"/>
<path d="M96.40,274.20 Q99.80,274.20 103.20,274.20" fill="none" stroke="#060606" stroke-width="2.80" stroke-linecap="round" filter="url(#bl)"/>
<path d="M108.40,274.60 Q111.30,274.60 114.20,274.60" fill="none" stroke="#080808" stroke-opacity="0.35" stroke-width="4.40" stroke-linecap="round" filter="url(#bl2)"/>
<path d="M108.40,274.60 Q111.30,274.60 114.20,274.60" fill="none" stroke="#080808" stroke-width="2.60" stroke-linecap="round" filter="url(#bl)"/>
<rect x="48.5" y="266.5" width="32" height="16.0" fill="none" stroke="#6e6e6e" stroke-width="1"/>
<rect x="92.5" y="266.5" width="32" height="16.0" fill="none" stroke="#6e6e6e" stroke-width="1"/>
<text x="30.30" y="277.50" font-size="8.2" text-anchor="middle" fill="#222" stroke="#222" stroke-width="0.12">PGAM1</text>
<text x="146.00" y="277.50" font-size="8.2" text-anchor="middle" fill="#222" stroke="#222" stroke-width="0.12">28kDa</text>
<text x="58.10" y="286.80" font-size="5.0" text-anchor="middle" fill="#000" stroke="#000" stroke-width="0.05">1</text>
<text x="69.90" y="286.80" font-size="5.0" text-anchor="middle" fill="#000" stroke="#000" stroke-width="0.05">0.75</text>
<text x="103.30" y="286.80" font-size="5.0" text-anchor="middle" fill="#000" stroke="#000" stroke-width="0.05">1</text>
<text x="115.40" y="286.80" font-size="5.0" text-anchor="middle" fill="#000" stroke="#000" stroke-width="0.05">0.79</text>
<rect x="48.5" y="287.5" width="32" height="16.0" fill="url(#gb5)"/>
<rect x="92.5" y="287.5" width="32" height="16.0" fill="url(#ga5)"/>
<path d="M66.70,296.60 Q69.50,296.60 72.30,296.60" fill="none" stroke="#050505" stroke-opacity="0.35" stroke-width="5.20" stroke-linecap="round" filter="url(#bl2)"/>
<path d="M66.70,296.60 Q69.50,296.60 72.30,296.60" fill="none" stroke="#050505" stroke-width="3.40" stroke-linecap="round" filter="url(#bl)"/>
<path d="M110.20,296.60 Q113.35,296.60 116.50,296.60" fill="none" stroke="#050505" stroke-opacity="0.35" stroke-width="4.80" stroke-linecap="round" filter="url(#bl2)"/>
<path d="M110.20,296.60 Q113.35,296.60 116.50,296.60" fill="none" stroke="#050505" stroke-width="3.00" stroke-linecap="round" filter="url(#bl)"/>
<rect x="48.5" y="287.5" width="32" height="16.0" fill="none" stroke="#6e6e6e" stroke-width="1"/>
<rect x="92.5" y="287.5" width="32" height="16.0" fill="none" stroke="#6e6e6e" stroke-width="1"/>
<text x="30.30" y="298.50" font-size="8.2" text-anchor="middle" fill="#222" stroke="#222" stroke-width="0.12">FBP2</text>
<text x="146.00" y="298.50" font-size="8.2" text-anchor="middle" fill="#222" stroke="#222" stroke-width="0.12">37kDa</text>
<rect x="48.5" y="309.5" width="32" height="16.0" fill="url(#gb6)"/>
<rect x="92.5" y="309.5" width="32" height="16.0" fill="url(#ga6)"/>
<path d="M54.20,318.00 Q57.60,318.00 61.00,318.00" fill="none" stroke="#0a0a0a" stroke-opacity="0.35" stroke-width="4.60" stroke-linecap="round" filter="url(#bl2)"/>
<path d="M54.20,318.00 Q57.60,318.00 61.00,318.00" fill="none" stroke="#0a0a0a" stroke-width="2.80" stroke-linecap="round" filter="url(#bl)"/>
<path d="M66.30,318.20 Q70.10,318.20 73.90,318.20" fill="none" stroke="#101010" stroke-opacity="0.35" stroke-width="4.40" stroke-linecap="round" filter="url(#bl2)"/>
<path d="M66.30,318.20 Q70.10,318.20 73.90,318.20" fill="none" stroke="#101010" stroke-width="2.60" stroke-linecap="round" filter="url(#bl)"/>
<path d="M100.10,317.90 Q103.25,317.10 106.40,317.90" fill="none" stroke="#0a0a0a" stroke-opacity="0.35" stroke-width="4.40" stroke-linecap="round" filter="url(#bl2)"/>
<path d="M100.10,317.90 Q103.25,317.10 106.40,317.90" fill="none" stroke="#0a0a0a" stroke-width="2.60" stroke-linecap="round" filter="url(#bl)"/>
<path d="M111.10,317.70 Q114.60,316.90 118.10,317.70" fill="none" stroke="#0a0a0a" stroke-opacity="0.35" stroke-width="4.40" stroke-linecap="round" filter="url(#bl2)"/>
<path d="M111.10,317.70 Q114.60,316.90 118.10,317.70" fill="none" stroke="#0a0a0a" stroke-width="2.60" stroke-linecap="round" filter="url(#bl)"/>
<rect x="48.5" y="309.5" width="32" height="16.0" fill="none" stroke="#6e6e6e" stroke-width="1"/>
<rect x="92.5" y="309.5" width="32" height="16.0" fill="none" stroke="#6e6e6e" stroke-width="1"/>
<text x="30.30" y="320.50" font-size="8.2" text-anchor="middle" fill="#222" stroke="#222" stroke-width="0.12">β-actin</text>
<text x="146.00" y="320.50" font-size="8.2" text-anchor="middle" fill="#222" stroke="#222" stroke-width="0.12">43kDa</text>
<text x="64.60" y="338.40" font-size="8.3" text-anchor="middle" fill="#222" stroke="#222" stroke-width="0.12">BGC-823</text>
<text x="108.60" y="338.40" font-size="8.3" text-anchor="middle" fill="#222" stroke="#222" stroke-width="0.12">AGS</text>
<text x="57.00" y="176.00" font-size="9.1" text-anchor="start" fill="#222" transform="rotate(-45 57.00 176.00)" stroke="#222" stroke-width="0.12">Vector</text>
<text x="73.40" y="175.80" font-size="9.1" text-anchor="start" fill="#222" transform="rotate(-45 73.40 175.80)" stroke="#222" stroke-width="0.12">FBP2</text>
<text x="100.60" y="176.00" font-size="9.1" text-anchor="start" fill="#222" transform="rotate(-45 100.60 176.00)" stroke="#222" stroke-width="0.12">Vector</text>
<text x="119.20" y="175.80" font-size="9.1" text-anchor="start" fill="#222" transform="rotate(-45 119.20 175.80)" stroke="#222" stroke-width="0.12">FBP2</text>
<text x="196.90" y="167.80" font-size="14.6" text-anchor="start" fill="#1a1a1a" stroke="#1a1a1a" stroke-width="0.12">F</text>
<line x1="232.70" y1="182.80" x2="232.70" y2="308.90" stroke="#1a1a1a" stroke-width="1.3"/>
<line x1="228.50" y1="308.30" x2="232.70" y2="308.30" stroke="#1a1a1a" stroke-width="1.3"/>
<text x="227.20" y="311.80" font-size="9.8" font-weight="bold" text-anchor="end" fill="#1a1a1a" stroke="#1a1a1a" stroke-width="0.25">0</text>
<line x1="228.50" y1="266.63" x2="232.70" y2="266.63" stroke="#1a1a1a" stroke-width="1.3"/>
<text x="227.20" y="270.13" font-size="9.8" font-weight="bold" text-anchor="end" fill="#1a1a1a" stroke="#1a1a1a" stroke-width="0.25">100</text>
<line x1="228.50" y1="224.97" x2="232.70" y2="224.97" stroke="#1a1a1a" stroke-width="1.3"/>
<text x="227.20" y="228.47" font-size="9.8" font-weight="bold" text-anchor="end" fill="#1a1a1a" stroke="#1a1a1a" stroke-width="0.25">200</text>
<line x1="228.50" y1="183.30" x2="232.70" y2="183.30" stroke="#1a1a1a" stroke-width="1.3"/>
<text x="227.20" y="186.80" font-size="9.8" font-weight="bold" text-anchor="end" fill="#1a1a1a" stroke="#1a1a1a" stroke-width="0.25">300</text>
<line x1="228.50" y1="308.30" x2="421.30" y2="308.30" stroke="#1a1a1a" stroke-width="1.3"/>
<line x1="232.70" y1="308.30" x2="232.70" y2="313.10" stroke="#1a1a1a" stroke-width="1.3"/>
<text x="232.70" y="324.60" font-size="9.8" font-weight="bold" text-anchor="middle" fill="#1a1a1a" stroke="#1a1a1a" stroke-width="0.25">0</text>
<line x1="279.70" y1="308.30" x2="279.70" y2="313.10" stroke="#1a1a1a" stroke-width="1.3"/>
<text x="279.70" y="324.60" font-size="9.8" font-weight="bold" text-anchor="middle" fill="#1a1a1a" stroke="#1a1a1a" stroke-width="0.25">20</text>
<line x1="326.70" y1="308.30" x2="326.70" y2="313.10" stroke="#1a1a1a" stroke-width="1.3"/>
<text x="326.70" y="324.60" font-size="9.8" font-weight="bold" text-anchor="middle" fill="#1a1a1a" stroke="#1a1a1a" stroke-width="0.25">40</text>
<line x1="373.70" y1="308.30" x2="373.70" y2="313.10" stroke="#1a1a1a" stroke-width="1.3"/>
<text x="373.70" y="324.60" font-size="9.8" font-weight="bold" text-anchor="middle" fill="#1a1a1a" stroke="#1a1a1a" stroke-width="0.25">60</text>
<line x1="420.70" y1="308.30" x2="420.70" y2="313.10" stroke="#1a1a1a" stroke-width="1.3"/>
<text x="420.70" y="324.60" font-size="9.8" font-weight="bold" text-anchor="middle" fill="#1a1a1a" stroke="#1a1a1a" stroke-width="0.25">80</text>
<text x="326.80" y="338.90" font-size="10.4" text-anchor="middle" fill="#1a1a1a" stroke="#1a1a1a" stroke-width="0.12">Time (min)</text>
<text x="205.50" y="245.80" font-size="10.4" text-anchor="middle" fill="#1a1a1a" transform="rotate(-90 205.50 245.80)" stroke="#1a1a1a" stroke-width="0.12">ECAR (mpH/min)</text>
<polyline points="235.94,281.63 251.53,279.55 267.12,278.30 282.71,257.47 298.29,255.80 313.88,255.80 329.47,220.38 345.06,222.05 360.64,217.47 376.23,280.80 391.82,281.63 407.41,279.55" fill="none" stroke="#9dbfa0" stroke-width="1.3"/>
<line x1="235.94" y1="277.47" x2="235.94" y2="285.80" stroke="#9dbfa0" stroke-width="0.9"/>
<line x1="232.94" y1="277.47" x2="238.94" y2="277.47" stroke="#9dbfa0" stroke-width="0.9"/>
<line x1="232.94" y1="285.80" x2="238.94" y2="285.80" stroke="#9dbfa0" stroke-width="0.9"/>
<rect x="233.34" y="279.03" width="5.20" height="5.20" fill="#9dbfa0" stroke="none" stroke-width="0"/>
<line x1="251.53" y1="277.05" x2="251.53" y2="282.05" stroke="#9dbfa0" stroke-width="0.9"/>
<line x1="248.53" y1="277.05" x2="254.53" y2="277.05" stroke="#9dbfa0" stroke-width="0.9"/>
<line x1="248.53" y1="282.05" x2="254.53" y2="282.05" stroke="#9dbfa0" stroke-width="0.9"/>
<rect x="248.93" y="276.95" width="5.20" height="5.20" fill="#9dbfa0" stroke="none" stroke-width="0"/>
<line x1="267.12" y1="274.97" x2="267.12" y2="281.63" stroke="#9dbfa0" stroke-width="0.9"/>
<line x1="264.12" y1="274.97" x2="270.12" y2="274.97" stroke="#9dbfa0" stroke-width="0.9"/>
<line x1="264.12" y1="281.63" x2="270.12" y2="281.63" stroke="#9dbfa0" stroke-width="0.9"/>
<rect x="264.52" y="275.70" width="5.20" height="5.20" fill="#9dbfa0" stroke="none" stroke-width="0"/>
<line x1="282.71" y1="254.13" x2="282.71" y2="260.80" stroke="#9dbfa0" stroke-width="0.9"/>
<line x1="279.71" y1="254.13" x2="285.71" y2="254.13" stroke="#9dbfa0" stroke-width="0.9"/>
<line x1="279.71" y1="260.80" x2="285.71" y2="260.80" stroke="#9dbfa0" stroke-width="0.9"/>
<rect x="280.11" y="254.87" width="5.20" height="5.20" fill="#9dbfa0" stroke="none" stroke-width="0"/>
<line x1="298.29" y1="253.30" x2="298.29" y2="258.30" stroke="#9dbfa0" stroke-width="0.9"/>
<line x1="295.29" y1="253.30" x2="301.29" y2="253.30" stroke="#9dbfa0" stroke-width="0.9"/>
<line x1="295.29" y1="258.30" x2="301.29" y2="258.30" stroke="#9dbfa0" stroke-width="0.9"/>
<rect x="295.69" y="253.20" width="5.20" height="5.20" fill="#9dbfa0" stroke="none" stroke-width="0"/>
<line x1="313.88" y1="250.80" x2="313.88" y2="260.80" stroke="#9dbfa0" stroke-width="0.9"/>
<line x1="310.88" y1="250.80" x2="316.88" y2="250.80" stroke="#9dbfa0" stroke-width="0.9"/>
<line x1="310.88" y1="260.80" x2="316.88" y2="260.80" stroke="#9dbfa0" stroke-width="0.9"/>
<rect x="311.28" y="253.20" width="5.20" height="5.20" fill="#9dbfa0" stroke="none" stroke-width="0"/>
<line x1="329.47" y1="214.13" x2="329.47" y2="226.63" stroke="#9dbfa0" stroke-width="0.9"/>
<line x1="326.47" y1="214.13" x2="332.47" y2="214.13" stroke="#9dbfa0" stroke-width="0.9"/>
<line x1="326.47" y1="226.63" x2="332.47" y2="226.63" stroke="#9dbfa0" stroke-width="0.9"/>
<rect x="326.87" y="217.78" width="5.20" height="5.20" fill="#9dbfa0" stroke="none" stroke-width="0"/>
<line x1="345.06" y1="215.80" x2="345.06" y2="228.30" stroke="#9dbfa0" stroke-width="0.9"/>
<line x1="342.06" y1="215.80" x2="348.06" y2="215.80" stroke="#9dbfa0" stroke-width="0.9"/>
<line x1="342.06" y1="228.30" x2="348.06" y2="228.30" stroke="#9dbfa0" stroke-width="0.9"/>
<rect x="342.46" y="219.45" width="5.20" height="5.20" fill="#9dbfa0" stroke="none" stroke-width="0"/>
<line x1="360.64" y1="209.13" x2="360.64" y2="225.80" stroke="#9dbfa0" stroke-width="0.9"/>
<line x1="357.64" y1="209.13" x2="363.64" y2="209.13" stroke="#9dbfa0" stroke-width="0.9"/>
<line x1="357.64" y1="225.80" x2="363.64" y2="225.80" stroke="#9dbfa0" stroke-width="0.9"/>
<rect x="358.04" y="214.87" width="5.20" height="5.20" fill="#9dbfa0" stroke="none" stroke-width="0"/>
<line x1="376.23" y1="277.47" x2="376.23" y2="284.13" stroke="#9dbfa0" stroke-width="0.9"/>
<line x1="373.23" y1="277.47" x2="379.23" y2="277.47" stroke="#9dbfa0" stroke-width="0.9"/>
<line x1="373.23" y1="284.13" x2="379.23" y2="284.13" stroke="#9dbfa0" stroke-width="0.9"/>
<rect x="373.63" y="278.20" width="5.20" height="5.20" fill="#9dbfa0" stroke="none" stroke-width="0"/>
<line x1="391.82" y1="277.47" x2="391.82" y2="285.80" stroke="#9dbfa0" stroke-width="0.9"/>
<line x1="388.82" y1="277.47" x2="394.82" y2="277.47" stroke="#9dbfa0" stroke-width="0.9"/>
<line x1="388.82" y1="285.80" x2="394.82" y2="285.80" stroke="#9dbfa0" stroke-width="0.9"/>
<rect x="389.22" y="279.03" width="5.20" height="5.20" fill="#9dbfa0" stroke="none" stroke-width="0"/>
<line x1="407.41" y1="275.38" x2="407.41" y2="283.72" stroke="#9dbfa0" stroke-width="0.9"/>
<line x1="404.41" y1="275.38" x2="410.41" y2="275.38" stroke="#9dbfa0" stroke-width="0.9"/>
<line x1="404.41" y1="283.72" x2="410.41" y2="283.72" stroke="#9dbfa0" stroke-width="0.9"/>
<rect x="404.81" y="276.95" width="5.20" height="5.20" fill="#9dbfa0" stroke="none" stroke-width="0"/>
<polyline points="235.94,275.80 251.53,274.55 267.12,274.55 282.71,246.63 298.29,244.97 313.88,244.55 329.47,204.13 345.06,202.88 360.64,201.63 376.23,274.55 391.82,277.47 407.41,275.38" fill="none" stroke="#5b82c6" stroke-width="1.3"/>
<line x1="235.94" y1="272.47" x2="235.94" y2="279.13" stroke="#5b82c6" stroke-width="0.9"/>
<line x1="232.94" y1="272.47" x2="238.94" y2="272.47" stroke="#5b82c6" stroke-width="0.9"/>
<line x1="232.94" y1="279.13" x2="238.94" y2="279.13" stroke="#5b82c6" stroke-width="0.9"/>
<circle cx="235.94" cy="275.80" r="2.75" fill="#5b82c6" stroke="none" stroke-width="0"/>
<line x1="251.53" y1="272.88" x2="251.53" y2="276.22" stroke="#5b82c6" stroke-width="0.9"/>
<line x1="248.53" y1="272.88" x2="254.53" y2="272.88" stroke="#5b82c6" stroke-width="0.9"/>
<line x1="248.53" y1="276.22" x2="254.53" y2="276.22" stroke="#5b82c6" stroke-width="0.9"/>
<circle cx="251.53" cy="274.55" r="2.75" fill="#5b82c6" stroke="none" stroke-width="0"/>
<line x1="267.12" y1="269.13" x2="267.12" y2="279.97" stroke="#5b82c6" stroke-width="0.9"/>
<line x1="264.12" y1="269.13" x2="270.12" y2="269.13" stroke="#5b82c6" stroke-width="0.9"/>
<line x1="264.12" y1="279.97" x2="270.12" y2="279.97" stroke="#5b82c6" stroke-width="0.9"/>
<circle cx="267.12" cy="274.55" r="2.75" fill="#5b82c6" stroke="none" stroke-width="0"/>
<line x1="282.71" y1="241.63" x2="282.71" y2="251.63" stroke="#5b82c6" stroke-width="0.9"/>
<line x1="279.71" y1="241.63" x2="285.71" y2="241.63" stroke="#5b82c6" stroke-width="0.9"/>
<line x1="279.71" y1="251.63" x2="285.71" y2="251.63" stroke="#5b82c6" stroke-width="0.9"/>
<circle cx="282.71" cy="246.63" r="2.75" fill="#5b82c6" stroke="none" stroke-width="0"/>
<line x1="298.29" y1="238.72" x2="298.29" y2="251.22" stroke="#5b82c6" stroke-width="0.9"/>
<line x1="295.29" y1="238.72" x2="301.29" y2="238.72" stroke="#5b82c6" stroke-width="0.9"/>
<line x1="295.29" y1="251.22" x2="301.29" y2="251.22" stroke="#5b82c6" stroke-width="0.9"/>
<circle cx="298.29" cy="244.97" r="2.75" fill="#5b82c6" stroke="none" stroke-width="0"/>
<line x1="313.88" y1="237.05" x2="313.88" y2="252.05" stroke="#5b82c6" stroke-width="0.9"/>
<line x1="310.88" y1="237.05" x2="316.88" y2="237.05" stroke="#5b82c6" stroke-width="0.9"/>
<line x1="310.88" y1="252.05" x2="316.88" y2="252.05" stroke="#5b82c6" stroke-width="0.9"/>
<circle cx="313.88" cy="244.55" r="2.75" fill="#5b82c6" stroke="none" stroke-width="0"/>
<line x1="329.47" y1="201.22" x2="329.47" y2="207.05" stroke="#5b82c6" stroke-width="0.9"/>
<line x1="326.47" y1="201.22" x2="332.47" y2="201.22" stroke="#5b82c6" stroke-width="0.9"/>
<line x1="326.47" y1="207.05" x2="332.47" y2="207.05" stroke="#5b82c6" stroke-width="0.9"/>
<circle cx="329.47" cy="204.13" r="2.75" fill="#5b82c6" stroke="none" stroke-width="0"/>
<line x1="345.06" y1="196.63" x2="345.06" y2="209.13" stroke="#5b82c6" stroke-width="0.9"/>
<line x1="342.06" y1="196.63" x2="348.06" y2="196.63" stroke="#5b82c6" stroke-width="0.9"/>
<line x1="342.06" y1="209.13" x2="348.06" y2="209.13" stroke="#5b82c6" stroke-width="0.9"/>
<circle cx="345.06" cy="202.88" r="2.75" fill="#5b82c6" stroke="none" stroke-width="0"/>
<line x1="360.64" y1="193.30" x2="360.64" y2="209.97" stroke="#5b82c6" stroke-width="0.9"/>
<line x1="357.64" y1="193.30" x2="363.64" y2="193.30" stroke="#5b82c6" stroke-width="0.9"/>
<line x1="357.64" y1="209.97" x2="363.64" y2="209.97" stroke="#5b82c6" stroke-width="0.9"/>
<circle cx="360.64" cy="201.63" r="2.75" fill="#5b82c6" stroke="none" stroke-width="0"/>
<line x1="376.23" y1="270.38" x2="376.23" y2="278.72" stroke="#5b82c6" stroke-width="0.9"/>
<line x1="373.23" y1="270.38" x2="379.23" y2="270.38" stroke="#5b82c6" stroke-width="0.9"/>
<line x1="373.23" y1="278.72" x2="379.23" y2="278.72" stroke="#5b82c6" stroke-width="0.9"/>
<circle cx="376.23" cy="274.55" r="2.75" fill="#5b82c6" stroke="none" stroke-width="0"/>
<line x1="391.82" y1="266.22" x2="391.82" y2="288.72" stroke="#5b82c6" stroke-width="0.9"/>
<line x1="388.82" y1="266.22" x2="394.82" y2="266.22" stroke="#5b82c6" stroke-width="0.9"/>
<line x1="388.82" y1="288.72" x2="394.82" y2="288.72" stroke="#5b82c6" stroke-width="0.9"/>
<circle cx="391.82" cy="277.47" r="2.75" fill="#5b82c6" stroke="none" stroke-width="0"/>
<line x1="407.41" y1="264.97" x2="407.41" y2="285.80" stroke="#5b82c6" stroke-width="0.9"/>
<line x1="404.41" y1="264.97" x2="410.41" y2="264.97" stroke="#5b82c6" stroke-width="0.9"/>
<line x1="404.41" y1="285.80" x2="410.41" y2="285.80" stroke="#5b82c6" stroke-width="0.9"/>
<circle cx="407.41" cy="275.38" r="2.75" fill="#5b82c6" stroke="none" stroke-width="0"/>
<text x="263.00" y="250.20" font-size="8.5" text-anchor="middle" fill="#1a1a1a" stroke="#1a1a1a" stroke-width="0.12">Glucose</text>
<line x1="267.13" y1="251.40" x2="267.13" y2="259.60" stroke="#1a1a1a" stroke-width="1.25"/>
<polygon points="264.53,258.40 269.73,258.40 267.13,264.60" fill="#1a1a1a"/>
<text x="302.20" y="218.60" font-size="8.5" text-anchor="middle" fill="#1a1a1a" stroke="#1a1a1a" stroke-width="0.12">Oligomycin</text>
<line x1="313.89" y1="220.30" x2="313.89" y2="227.80" stroke="#1a1a1a" stroke-width="1.25"/>
<polygon points="311.29,226.60 316.49,226.60 313.89,232.80" fill="#1a1a1a"/>
<text x="361.80" y="174.60" font-size="8.5" text-anchor="middle" fill="#1a1a1a" stroke="#1a1a1a" stroke-width="0.12">2-DG</text>
<line x1="360.66" y1="176.90" x2="360.66" y2="185.10" stroke="#1a1a1a" stroke-width="1.25"/>
<polygon points="358.06,183.90 363.26,183.90 360.66,190.10" fill="#1a1a1a"/>
<line x1="241.20" y1="176.50" x2="255.00" y2="176.50" stroke="#5b82c6" stroke-width="1.3"/>
<circle cx="248.10" cy="176.50" r="2.50" fill="#5b82c6" stroke="none" stroke-width="0"/>
<text x="262.40" y="180.10" font-size="10.1" text-anchor="start" fill="#1a1a1a" stroke="#1a1a1a" stroke-width="0.12">Vector</text>
<line x1="241.20" y1="193.30" x2="255.00" y2="193.30" stroke="#9dbfa0" stroke-width="1.3"/>
<rect x="245.70" y="190.90" width="4.80" height="4.80" fill="#9dbfa0" stroke="none" stroke-width="0"/>
<text x="262.40" y="196.90" font-size="10.1" text-anchor="start" fill="#1a1a1a" stroke="#1a1a1a" stroke-width="0.12">FBP2</text>
<text x="449.80" y="167.80" font-size="14.6" text-anchor="start" fill="#1a1a1a" stroke="#1a1a1a" stroke-width="0.12">G</text>
<line x1="485.70" y1="182.60" x2="485.70" y2="308.90" stroke="#1a1a1a" stroke-width="1.3"/>
<line x1="481.50" y1="308.30" x2="485.70" y2="308.30" stroke="#1a1a1a" stroke-width="1.3"/>
<text x="480.20" y="311.80" font-size="9.8" font-weight="bold" text-anchor="end" fill="#1a1a1a" stroke="#1a1a1a" stroke-width="0.25">0</text>
<line x1="481.50" y1="277.00" x2="485.70" y2="277.00" stroke="#1a1a1a" stroke-width="1.3"/>
<text x="480.20" y="280.50" font-size="9.8" font-weight="bold" text-anchor="end" fill="#1a1a1a" stroke="#1a1a1a" stroke-width="0.25">100</text>
<line x1="481.50" y1="245.70" x2="485.70" y2="245.70" stroke="#1a1a1a" stroke-width="1.3"/>
<text x="480.20" y="249.20" font-size="9.8" font-weight="bold" text-anchor="end" fill="#1a1a1a" stroke="#1a1a1a" stroke-width="0.25">200</text>
<line x1="481.50" y1="214.40" x2="485.70" y2="214.40" stroke="#1a1a1a" stroke-width="1.3"/>
<text x="480.20" y="217.90" font-size="9.8" font-weight="bold" text-anchor="end" fill="#1a1a1a" stroke="#1a1a1a" stroke-width="0.25">300</text>
<line x1="481.50" y1="183.10" x2="485.70" y2="183.10" stroke="#1a1a1a" stroke-width="1.3"/>
<text x="480.20" y="186.60" font-size="9.8" font-weight="bold" text-anchor="end" fill="#1a1a1a" stroke="#1a1a1a" stroke-width="0.25">400</text>
<line x1="481.50" y1="308.30" x2="674.60" y2="308.30" stroke="#1a1a1a" stroke-width="1.3"/>
<line x1="485.70" y1="308.30" x2="485.70" y2="313.10" stroke="#1a1a1a" stroke-width="1.3"/>
<text x="485.70" y="324.60" font-size="9.8" font-weight="bold" text-anchor="middle" fill="#1a1a1a" stroke="#1a1a1a" stroke-width="0.25">0</text>
<line x1="532.77" y1="308.30" x2="532.77" y2="313.10" stroke="#1a1a1a" stroke-width="1.3"/>
<text x="532.77" y="324.60" font-size="9.8" font-weight="bold" text-anchor="middle" fill="#1a1a1a" stroke="#1a1a1a" stroke-width="0.25">20</text>
<line x1="579.85" y1="308.30" x2="579.85" y2="313.10" stroke="#1a1a1a" stroke-width="1.3"/>
<text x="579.85" y="324.60" font-size="9.8" font-weight="bold" text-anchor="middle" fill="#1a1a1a" stroke="#1a1a1a" stroke-width="0.25">40</text>
<line x1="626.92" y1="308.30" x2="626.92" y2="313.10" stroke="#1a1a1a" stroke-width="1.3"/>
<text x="626.92" y="324.60" font-size="9.8" font-weight="bold" text-anchor="middle" fill="#1a1a1a" stroke="#1a1a1a" stroke-width="0.25">60</text>
<line x1="674.00" y1="308.30" x2="674.00" y2="313.10" stroke="#1a1a1a" stroke-width="1.3"/>
<text x="674.00" y="324.60" font-size="9.8" font-weight="bold" text-anchor="middle" fill="#1a1a1a" stroke="#1a1a1a" stroke-width="0.25">80</text>
<text x="580.00" y="338.90" font-size="10.4" text-anchor="middle" fill="#1a1a1a" stroke="#1a1a1a" stroke-width="0.12">Time (min)</text>
<text x="458.20" y="245.70" font-size="10.4" text-anchor="middle" fill="#1a1a1a" transform="rotate(-90 458.20 245.70)" stroke="#1a1a1a" stroke-width="0.12">ECAR (mpH/min)</text>
<polyline points="488.95,289.83 504.56,291.40 520.17,290.46 535.79,272.62 551.40,272.31 567.01,270.11 582.62,242.57 598.24,239.75 613.85,236.94 629.46,289.83 645.07,291.40 660.68,291.40" fill="none" stroke="#9dbfa0" stroke-width="1.3"/>
<line x1="488.95" y1="287.64" x2="488.95" y2="292.02" stroke="#9dbfa0" stroke-width="0.9"/>
<line x1="485.95" y1="287.64" x2="491.95" y2="287.64" stroke="#9dbfa0" stroke-width="0.9"/>
<line x1="485.95" y1="292.02" x2="491.95" y2="292.02" stroke="#9dbfa0" stroke-width="0.9"/>
<rect x="486.35" y="287.23" width="5.20" height="5.20" fill="#9dbfa0" stroke="none" stroke-width="0"/>
<line x1="504.56" y1="289.52" x2="504.56" y2="293.28" stroke="#9dbfa0" stroke-width="0.9"/>
<line x1="501.56" y1="289.52" x2="507.56" y2="289.52" stroke="#9dbfa0" stroke-width="0.9"/>
<line x1="501.56" y1="293.28" x2="507.56" y2="293.28" stroke="#9dbfa0" stroke-width="0.9"/>
<rect x="501.96" y="288.80" width="5.20" height="5.20" fill="#9dbfa0" stroke="none" stroke-width="0"/>
<line x1="520.17" y1="288.58" x2="520.17" y2="292.34" stroke="#9dbfa0" stroke-width="0.9"/>
<line x1="517.17" y1="288.58" x2="523.17" y2="288.58" stroke="#9dbfa0" stroke-width="0.9"/>
<line x1="517.17" y1="292.34" x2="523.17" y2="292.34" stroke="#9dbfa0" stroke-width="0.9"/>
<rect x="517.57" y="287.86" width="5.20" height="5.20" fill="#9dbfa0" stroke="none" stroke-width="0"/>
<line x1="535.79" y1="267.92" x2="535.79" y2="277.31" stroke="#9dbfa0" stroke-width="0.9"/>
<line x1="532.79" y1="267.92" x2="538.79" y2="267.92" stroke="#9dbfa0" stroke-width="0.9"/>
<line x1="532.79" y1="277.31" x2="538.79" y2="277.31" stroke="#9dbfa0" stroke-width="0.9"/>
<rect x="533.19" y="270.02" width="5.20" height="5.20" fill="#9dbfa0" stroke="none" stroke-width="0"/>
<line x1="551.40" y1="267.92" x2="551.40" y2="276.69" stroke="#9dbfa0" stroke-width="0.9"/>
<line x1="548.40" y1="267.92" x2="554.40" y2="267.92" stroke="#9dbfa0" stroke-width="0.9"/>
<line x1="548.40" y1="276.69" x2="554.40" y2="276.69" stroke="#9dbfa0" stroke-width="0.9"/>
<rect x="548.80" y="269.70" width="5.20" height="5.20" fill="#9dbfa0" stroke="none" stroke-width="0"/>
<line x1="567.01" y1="266.98" x2="567.01" y2="273.24" stroke="#9dbfa0" stroke-width="0.9"/>
<line x1="564.01" y1="266.98" x2="570.01" y2="266.98" stroke="#9dbfa0" stroke-width="0.9"/>
<line x1="564.01" y1="273.24" x2="570.01" y2="273.24" stroke="#9dbfa0" stroke-width="0.9"/>
<rect x="564.41" y="267.51" width="5.20" height="5.20" fill="#9dbfa0" stroke="none" stroke-width="0"/>
<line x1="582.62" y1="235.68" x2="582.62" y2="249.46" stroke="#9dbfa0" stroke-width="0.9"/>
<line x1="579.62" y1="235.68" x2="585.62" y2="235.68" stroke="#9dbfa0" stroke-width="0.9"/>
<line x1="579.62" y1="249.46" x2="585.62" y2="249.46" stroke="#9dbfa0" stroke-width="0.9"/>
<rect x="580.02" y="239.97" width="5.20" height="5.20" fill="#9dbfa0" stroke="none" stroke-width="0"/>
<line x1="598.24" y1="233.49" x2="598.24" y2="246.01" stroke="#9dbfa0" stroke-width="0.9"/>
<line x1="595.24" y1="233.49" x2="601.24" y2="233.49" stroke="#9dbfa0" stroke-width="0.9"/>
<line x1="595.24" y1="246.01" x2="601.24" y2="246.01" stroke="#9dbfa0" stroke-width="0.9"/>
<rect x="595.64" y="237.15" width="5.20" height="5.20" fill="#9dbfa0" stroke="none" stroke-width="0"/>
<line x1="613.85" y1="229.42" x2="613.85" y2="244.45" stroke="#9dbfa0" stroke-width="0.9"/>
<line x1="610.85" y1="229.42" x2="616.85" y2="229.42" stroke="#9dbfa0" stroke-width="0.9"/>
<line x1="610.85" y1="244.45" x2="616.85" y2="244.45" stroke="#9dbfa0" stroke-width="0.9"/>
<rect x="611.25" y="234.34" width="5.20" height="5.20" fill="#9dbfa0" stroke="none" stroke-width="0"/>
<line x1="629.46" y1="287.95" x2="629.46" y2="291.71" stroke="#9dbfa0" stroke-width="0.9"/>
<line x1="626.46" y1="287.95" x2="632.46" y2="287.95" stroke="#9dbfa0" stroke-width="0.9"/>
<line x1="626.46" y1="291.71" x2="632.46" y2="291.71" stroke="#9dbfa0" stroke-width="0.9"/>
<rect x="626.86" y="287.23" width="5.20" height="5.20" fill="#9dbfa0" stroke="none" stroke-width="0"/>
<line x1="645.07" y1="289.52" x2="645.07" y2="293.28" stroke="#9dbfa0" stroke-width="0.9"/>
<line x1="642.07" y1="289.52" x2="648.07" y2="289.52" stroke="#9dbfa0" stroke-width="0.9"/>
<line x1="642.07" y1="293.28" x2="648.07" y2="293.28" stroke="#9dbfa0" stroke-width="0.9"/>
<rect x="642.47" y="288.80" width="5.20" height="5.20" fill="#9dbfa0" stroke="none" stroke-width="0"/>
<line x1="660.68" y1="288.89" x2="660.68" y2="293.90" stroke="#9dbfa0" stroke-width="0.9"/>
<line x1="657.68" y1="288.89" x2="663.68" y2="288.89" stroke="#9dbfa0" stroke-width="0.9"/>
<line x1="657.68" y1="293.90" x2="663.68" y2="293.90" stroke="#9dbfa0" stroke-width="0.9"/>
<rect x="658.08" y="288.80" width="5.20" height="5.20" fill="#9dbfa0" stroke="none" stroke-width="0"/>
<polyline points="488.95,287.02 504.56,287.95 520.17,287.02 535.79,264.48 551.40,262.92 567.01,261.35 582.62,226.61 598.24,224.73 613.85,224.42 629.46,287.02 645.07,289.21 660.68,287.95" fill="none" stroke="#5b82c6" stroke-width="1.3"/>
<line x1="488.95" y1="285.14" x2="488.95" y2="288.89" stroke="#5b82c6" stroke-width="0.9"/>
<line x1="485.95" y1="285.14" x2="491.95" y2="285.14" stroke="#5b82c6" stroke-width="0.9"/>
<line x1="485.95" y1="288.89" x2="491.95" y2="288.89" stroke="#5b82c6" stroke-width="0.9"/>
<circle cx="488.95" cy="287.02" r="2.75" fill="#5b82c6" stroke="none" stroke-width="0"/>
<line x1="504.56" y1="286.39" x2="504.56" y2="289.52" stroke="#5b82c6" stroke-width="0.9"/>
<line x1="501.56" y1="286.39" x2="507.56" y2="286.39" stroke="#5b82c6" stroke-width="0.9"/>
<line x1="501.56" y1="289.52" x2="507.56" y2="289.52" stroke="#5b82c6" stroke-width="0.9"/>
<circle cx="504.56" cy="287.95" r="2.75" fill="#5b82c6" stroke="none" stroke-width="0"/>
<line x1="520.17" y1="284.20" x2="520.17" y2="289.83" stroke="#5b82c6" stroke-width="0.9"/>
<line x1="517.17" y1="284.20" x2="523.17" y2="284.20" stroke="#5b82c6" stroke-width="0.9"/>
<line x1="517.17" y1="289.83" x2="523.17" y2="289.83" stroke="#5b82c6" stroke-width="0.9"/>
<circle cx="520.17" cy="287.02" r="2.75" fill="#5b82c6" stroke="none" stroke-width="0"/>
<line x1="535.79" y1="260.72" x2="535.79" y2="268.24" stroke="#5b82c6" stroke-width="0.9"/>
<line x1="532.79" y1="260.72" x2="538.79" y2="260.72" stroke="#5b82c6" stroke-width="0.9"/>
<line x1="532.79" y1="268.24" x2="538.79" y2="268.24" stroke="#5b82c6" stroke-width="0.9"/>
<circle cx="535.79" cy="264.48" r="2.75" fill="#5b82c6" stroke="none" stroke-width="0"/>
<line x1="551.40" y1="258.53" x2="551.40" y2="267.30" stroke="#5b82c6" stroke-width="0.9"/>
<line x1="548.40" y1="258.53" x2="554.40" y2="258.53" stroke="#5b82c6" stroke-width="0.9"/>
<line x1="548.40" y1="267.30" x2="554.40" y2="267.30" stroke="#5b82c6" stroke-width="0.9"/>
<circle cx="551.40" cy="262.92" r="2.75" fill="#5b82c6" stroke="none" stroke-width="0"/>
<line x1="567.01" y1="256.65" x2="567.01" y2="266.05" stroke="#5b82c6" stroke-width="0.9"/>
<line x1="564.01" y1="256.65" x2="570.01" y2="256.65" stroke="#5b82c6" stroke-width="0.9"/>
<line x1="564.01" y1="266.05" x2="570.01" y2="266.05" stroke="#5b82c6" stroke-width="0.9"/>
<circle cx="567.01" cy="261.35" r="2.75" fill="#5b82c6" stroke="none" stroke-width="0"/>
<line x1="582.62" y1="219.72" x2="582.62" y2="233.49" stroke="#5b82c6" stroke-width="0.9"/>
<line x1="579.62" y1="219.72" x2="585.62" y2="219.72" stroke="#5b82c6" stroke-width="0.9"/>
<line x1="579.62" y1="233.49" x2="585.62" y2="233.49" stroke="#5b82c6" stroke-width="0.9"/>
<circle cx="582.62" cy="226.61" r="2.75" fill="#5b82c6" stroke="none" stroke-width="0"/>
<line x1="598.24" y1="217.84" x2="598.24" y2="231.62" stroke="#5b82c6" stroke-width="0.9"/>
<line x1="595.24" y1="217.84" x2="601.24" y2="217.84" stroke="#5b82c6" stroke-width="0.9"/>
<line x1="595.24" y1="231.62" x2="601.24" y2="231.62" stroke="#5b82c6" stroke-width="0.9"/>
<circle cx="598.24" cy="224.73" r="2.75" fill="#5b82c6" stroke="none" stroke-width="0"/>
<line x1="613.85" y1="218.78" x2="613.85" y2="230.05" stroke="#5b82c6" stroke-width="0.9"/>
<line x1="610.85" y1="218.78" x2="616.85" y2="218.78" stroke="#5b82c6" stroke-width="0.9"/>
<line x1="610.85" y1="230.05" x2="616.85" y2="230.05" stroke="#5b82c6" stroke-width="0.9"/>
<circle cx="613.85" cy="224.42" r="2.75" fill="#5b82c6" stroke="none" stroke-width="0"/>
<line x1="629.46" y1="284.51" x2="629.46" y2="289.52" stroke="#5b82c6" stroke-width="0.9"/>
<line x1="626.46" y1="284.51" x2="632.46" y2="284.51" stroke="#5b82c6" stroke-width="0.9"/>
<line x1="626.46" y1="289.52" x2="632.46" y2="289.52" stroke="#5b82c6" stroke-width="0.9"/>
<circle cx="629.46" cy="287.02" r="2.75" fill="#5b82c6" stroke="none" stroke-width="0"/>
<line x1="645.07" y1="286.70" x2="645.07" y2="291.71" stroke="#5b82c6" stroke-width="0.9"/>
<line x1="642.07" y1="286.70" x2="648.07" y2="286.70" stroke="#5b82c6" stroke-width="0.9"/>
<line x1="642.07" y1="291.71" x2="648.07" y2="291.71" stroke="#5b82c6" stroke-width="0.9"/>
<circle cx="645.07" cy="289.21" r="2.75" fill="#5b82c6" stroke="none" stroke-width="0"/>
<line x1="660.68" y1="283.57" x2="660.68" y2="292.34" stroke="#5b82c6" stroke-width="0.9"/>
<line x1="657.68" y1="283.57" x2="663.68" y2="283.57" stroke="#5b82c6" stroke-width="0.9"/>
<line x1="657.68" y1="292.34" x2="663.68" y2="292.34" stroke="#5b82c6" stroke-width="0.9"/>
<circle cx="660.68" cy="287.95" r="2.75" fill="#5b82c6" stroke="none" stroke-width="0"/>
<text x="516.00" y="266.20" font-size="8.5" text-anchor="middle" fill="#1a1a1a" stroke="#1a1a1a" stroke-width="0.12">Glucose</text>
<line x1="520.18" y1="267.30" x2="520.18" y2="275.00" stroke="#1a1a1a" stroke-width="1.25"/>
<polygon points="517.58,273.80 522.78,273.80 520.18,280.00" fill="#1a1a1a"/>
<text x="555.00" y="238.00" font-size="8.5" text-anchor="middle" fill="#1a1a1a" stroke="#1a1a1a" stroke-width="0.12">Oligomycin</text>
<line x1="567.02" y1="240.20" x2="567.02" y2="247.60" stroke="#1a1a1a" stroke-width="1.25"/>
<polygon points="564.42,246.40 569.62,246.40 567.02,252.60" fill="#1a1a1a"/>
<text x="613.40" y="200.20" font-size="8.5" text-anchor="middle" fill="#1a1a1a" stroke="#1a1a1a" stroke-width="0.12">2-DG</text>
<line x1="613.86" y1="201.00" x2="613.86" y2="208.60" stroke="#1a1a1a" stroke-width="1.25"/>
<polygon points="611.26,207.40 616.46,207.40 613.86,213.60" fill="#1a1a1a"/>
<line x1="494.40" y1="175.90" x2="508.20" y2="175.90" stroke="#5b82c6" stroke-width="1.3"/>
<circle cx="501.30" cy="175.90" r="2.50" fill="#5b82c6" stroke="none" stroke-width="0"/>
<text x="515.60" y="179.50" font-size="10.1" text-anchor="start" fill="#1a1a1a" stroke="#1a1a1a" stroke-width="0.12">Vector</text>
<line x1="494.40" y1="192.70" x2="508.20" y2="192.70" stroke="#9dbfa0" stroke-width="1.3"/>
<rect x="498.90" y="190.30" width="4.80" height="4.80" fill="#9dbfa0" stroke="none" stroke-width="0"/>
<text x="515.60" y="196.30" font-size="10.1" text-anchor="start" fill="#1a1a1a" stroke="#1a1a1a" stroke-width="0.12">FBP2</text>
<text x="1.00" y="370.00" font-size="14.6" text-anchor="start" fill="#1a1a1a" stroke="#1a1a1a" stroke-width="0.12">H</text>
<line x1="34.50" y1="387.90" x2="34.50" y2="500.70" stroke="#1a1a1a" stroke-width="1.1"/>
<line x1="29.70" y1="500.20" x2="34.50" y2="500.20" stroke="#1a1a1a" stroke-width="1.1"/>
<text x="28.20" y="503.22" font-size="8.4" font-weight="bold" text-anchor="end" fill="#1a1a1a" stroke="#1a1a1a" stroke-width="0.25">0</text>
<line x1="29.70" y1="477.84" x2="34.50" y2="477.84" stroke="#1a1a1a" stroke-width="1.1"/>
<text x="28.20" y="480.86" font-size="8.4" font-weight="bold" text-anchor="end" fill="#1a1a1a" stroke="#1a1a1a" stroke-width="0.25">20</text>
<line x1="29.70" y1="455.48" x2="34.50" y2="455.48" stroke="#1a1a1a" stroke-width="1.1"/>
<text x="28.20" y="458.50" font-size="8.4" font-weight="bold" text-anchor="end" fill="#1a1a1a" stroke="#1a1a1a" stroke-width="0.25">40</text>
<line x1="29.70" y1="433.12" x2="34.50" y2="433.12" stroke="#1a1a1a" stroke-width="1.1"/>
<text x="28.20" y="436.14" font-size="8.4" font-weight="bold" text-anchor="end" fill="#1a1a1a" stroke="#1a1a1a" stroke-width="0.25">60</text>
<line x1="29.70" y1="410.76" x2="34.50" y2="410.76" stroke="#1a1a1a" stroke-width="1.1"/>
<text x="28.20" y="413.78" font-size="8.4" font-weight="bold" text-anchor="end" fill="#1a1a1a" stroke="#1a1a1a" stroke-width="0.25">80</text>
<line x1="29.70" y1="388.40" x2="34.50" y2="388.40" stroke="#1a1a1a" stroke-width="1.1"/>
<text x="28.20" y="391.42" font-size="8.4" font-weight="bold" text-anchor="end" fill="#1a1a1a" stroke="#1a1a1a" stroke-width="0.25">100</text>
<line x1="29.70" y1="500.20" x2="109.00" y2="500.20" stroke="#1a1a1a" stroke-width="1.1"/>
<rect x="46.05" y="411.43" width="19.30" height="88.77" fill="#6282bd" stroke="#1a1a1a" stroke-width="1.1"/>
<line x1="55.70" y1="409.53" x2="55.70" y2="413.33" stroke="#1a1a1a" stroke-width="0.8"/>
<line x1="50.95" y1="409.53" x2="60.45" y2="409.53" stroke="#1a1a1a" stroke-width="0.8"/>
<line x1="50.95" y1="413.33" x2="60.45" y2="413.33" stroke="#000" stroke-width="0.8" stroke-opacity="0.45"/>
<circle cx="52.20" cy="409.53" r="2.00" fill="#1a1a1a" stroke="none" stroke-width="0"/>
<circle cx="59.30" cy="409.53" r="2.00" fill="#1a1a1a" stroke="none" stroke-width="0"/>
<circle cx="55.50" cy="413.33" r="2.00" fill="#1a1a1a" stroke="none" stroke-width="0"/>
<rect x="78.00" y="425.07" width="19.30" height="75.13" fill="#9ab89d" stroke="#1a1a1a" stroke-width="1.1"/>
<line x1="87.65" y1="421.05" x2="87.65" y2="429.10" stroke="#1a1a1a" stroke-width="0.8"/>
<line x1="82.90" y1="421.05" x2="92.40" y2="421.05" stroke="#1a1a1a" stroke-width="0.8"/>
<line x1="82.90" y1="429.10" x2="92.40" y2="429.10" stroke="#000" stroke-width="0.8" stroke-opacity="0.45"/>
<circle cx="87.65" cy="420.37" r="2.00" fill="#1a1a1a" stroke="none" stroke-width="0"/>
<circle cx="87.65" cy="424.18" r="2.00" fill="#1a1a1a" stroke="none" stroke-width="0"/>
<circle cx="87.65" cy="428.42" r="2.00" fill="#1a1a1a" stroke="none" stroke-width="0"/>
<text x="71.67" y="514.00" font-size="9.2" text-anchor="middle" fill="#1a1a1a" stroke="#1a1a1a" stroke-width="0.12">BGC-823</text>
<polyline points="55.70,402.80 55.70,397.50 87.65,397.50 87.65,402.80" fill="none" stroke="#1a1a1a" stroke-width="1.1"/>
<text x="71.67" y="397.80" font-size="9.0" text-anchor="middle" fill="#1a1a1a" stroke="#1a1a1a" stroke-width="0.12">**</text>
<text x="8.95" y="444.00" font-size="9.3" text-anchor="middle" fill="#1a1a1a" transform="rotate(-90 8.95 444.00)" stroke="#1a1a1a" stroke-width="0.12">ECAR (mpH/min)</text>
<text x="71.00" y="374.40" font-size="9.2" text-anchor="middle" fill="#1a1a1a" stroke="#1a1a1a" stroke-width="0.12">Nonglycolytic Acidification</text>
<rect x="107.80" y="393.40" width="11.40" height="5.40" fill="#6282bd" stroke="#1a1a1a" stroke-width="1.0"/>
<text x="125.90" y="399.30" font-size="9.2" text-anchor="start" fill="#1a1a1a" stroke="#1a1a1a" stroke-width="0.12">Vector</text>
<rect x="107.80" y="408.10" width="11.40" height="5.40" fill="#9ab89d" stroke="#1a1a1a" stroke-width="1.0"/>
<text x="125.90" y="414.00" font-size="9.2" text-anchor="start" fill="#1a1a1a" stroke="#1a1a1a" stroke-width="0.12">FBP2</text>
<line x1="206.70" y1="387.90" x2="206.70" y2="500.70" stroke="#1a1a1a" stroke-width="1.1"/>
<line x1="201.90" y1="500.20" x2="206.70" y2="500.20" stroke="#1a1a1a" stroke-width="1.1"/>
<text x="200.40" y="503.22" font-size="8.4" font-weight="bold" text-anchor="end" fill="#1a1a1a" stroke="#1a1a1a" stroke-width="0.25">0</text>
<line x1="201.90" y1="472.25" x2="206.70" y2="472.25" stroke="#1a1a1a" stroke-width="1.1"/>
<text x="200.40" y="475.27" font-size="8.4" font-weight="bold" text-anchor="end" fill="#1a1a1a" stroke="#1a1a1a" stroke-width="0.25">20</text>
<line x1="201.90" y1="444.30" x2="206.70" y2="444.30" stroke="#1a1a1a" stroke-width="1.1"/>
<text x="200.40" y="447.32" font-size="8.4" font-weight="bold" text-anchor="end" fill="#1a1a1a" stroke="#1a1a1a" stroke-width="0.25">40</text>
<line x1="201.90" y1="416.35" x2="206.70" y2="416.35" stroke="#1a1a1a" stroke-width="1.1"/>
<text x="200.40" y="419.37" font-size="8.4" font-weight="bold" text-anchor="end" fill="#1a1a1a" stroke="#1a1a1a" stroke-width="0.25">60</text>
<line x1="201.90" y1="388.40" x2="206.70" y2="388.40" stroke="#1a1a1a" stroke-width="1.1"/>
<text x="200.40" y="391.42" font-size="8.4" font-weight="bold" text-anchor="end" fill="#1a1a1a" stroke="#1a1a1a" stroke-width="0.25">80</text>
<line x1="201.90" y1="500.20" x2="281.20" y2="500.20" stroke="#1a1a1a" stroke-width="1.1"/>
<rect x="218.25" y="406.43" width="19.30" height="93.77" fill="#6282bd" stroke="#1a1a1a" stroke-width="1.1"/>
<line x1="227.90" y1="404.05" x2="227.90" y2="408.80" stroke="#1a1a1a" stroke-width="0.8"/>
<line x1="223.15" y1="404.05" x2="232.65" y2="404.05" stroke="#1a1a1a" stroke-width="0.8"/>
<line x1="223.15" y1="408.80" x2="232.65" y2="408.80" stroke="#000" stroke-width="0.8" stroke-opacity="0.45"/>
<circle cx="224.30" cy="404.47" r="2.00" fill="#1a1a1a" stroke="none" stroke-width="0"/>
<circle cx="231.40" cy="405.03" r="2.00" fill="#1a1a1a" stroke="none" stroke-width="0"/>
<circle cx="227.90" cy="408.80" r="2.00" fill="#1a1a1a" stroke="none" stroke-width="0"/>
<rect x="250.20" y="422.08" width="19.30" height="78.12" fill="#9ab89d" stroke="#1a1a1a" stroke-width="1.1"/>
<line x1="259.85" y1="419.98" x2="259.85" y2="424.18" stroke="#1a1a1a" stroke-width="0.8"/>
<line x1="255.10" y1="419.98" x2="264.60" y2="419.98" stroke="#1a1a1a" stroke-width="0.8"/>
<line x1="255.10" y1="424.18" x2="264.60" y2="424.18" stroke="#000" stroke-width="0.8" stroke-opacity="0.45"/>
<circle cx="259.85" cy="418.73" r="2.00" fill="#1a1a1a" stroke="none" stroke-width="0"/>
<circle cx="256.35" cy="423.34" r="2.00" fill="#1a1a1a" stroke="none" stroke-width="0"/>
<circle cx="263.25" cy="422.36" r="2.00" fill="#1a1a1a" stroke="none" stroke-width="0"/>
<text x="243.88" y="514.00" font-size="9.2" text-anchor="middle" fill="#1a1a1a" stroke="#1a1a1a" stroke-width="0.12">AGS</text>
<polyline points="227.90,396.80 227.90,391.50 259.85,391.50 259.85,396.80" fill="none" stroke="#1a1a1a" stroke-width="1.1"/>
<text x="243.88" y="392.10" font-size="9.0" text-anchor="middle" fill="#1a1a1a" stroke="#1a1a1a" stroke-width="0.12">**</text>
<text x="186.25" y="444.00" font-size="9.3" text-anchor="middle" fill="#1a1a1a" transform="rotate(-90 186.25 444.00)" stroke="#1a1a1a" stroke-width="0.12">ECAR (mpH/min)</text>
<text x="244.00" y="374.40" font-size="9.2" text-anchor="middle" fill="#1a1a1a" stroke="#1a1a1a" stroke-width="0.12">Nonglycolytic Acidification</text>
<rect x="284.70" y="393.40" width="11.40" height="5.40" fill="#6282bd" stroke="#1a1a1a" stroke-width="1.0"/>
<text x="302.80" y="399.30" font-size="9.2" text-anchor="start" fill="#1a1a1a" stroke="#1a1a1a" stroke-width="0.12">Vector</text>
<rect x="284.70" y="408.10" width="11.40" height="5.40" fill="#9ab89d" stroke="#1a1a1a" stroke-width="1.0"/>
<text x="302.80" y="414.00" font-size="9.2" text-anchor="start" fill="#1a1a1a" stroke="#1a1a1a" stroke-width="0.12">FBP2</text>
<text x="355.40" y="369.80" font-size="14.6" text-anchor="start" fill="#1a1a1a" stroke="#1a1a1a" stroke-width="0.12">I</text>
<line x1="388.60" y1="387.90" x2="388.60" y2="500.70" stroke="#1a1a1a" stroke-width="1.1"/>
<line x1="383.80" y1="500.20" x2="388.60" y2="500.20" stroke="#1a1a1a" stroke-width="1.1"/>
<text x="382.30" y="503.22" font-size="8.4" font-weight="bold" text-anchor="end" fill="#1a1a1a" stroke="#1a1a1a" stroke-width="0.25">0</text>
<line x1="383.80" y1="472.25" x2="388.60" y2="472.25" stroke="#1a1a1a" stroke-width="1.1"/>
<text x="382.30" y="475.27" font-size="8.4" font-weight="bold" text-anchor="end" fill="#1a1a1a" stroke="#1a1a1a" stroke-width="0.25">50</text>
<line x1="383.80" y1="444.30" x2="388.60" y2="444.30" stroke="#1a1a1a" stroke-width="1.1"/>
<text x="382.30" y="447.32" font-size="8.4" font-weight="bold" text-anchor="end" fill="#1a1a1a" stroke="#1a1a1a" stroke-width="0.25">100</text>
<line x1="383.80" y1="416.35" x2="388.60" y2="416.35" stroke="#1a1a1a" stroke-width="1.1"/>
<text x="382.30" y="419.37" font-size="8.4" font-weight="bold" text-anchor="end" fill="#1a1a1a" stroke="#1a1a1a" stroke-width="0.25">150</text>
<line x1="383.80" y1="388.40" x2="388.60" y2="388.40" stroke="#1a1a1a" stroke-width="1.1"/>
<text x="382.30" y="391.42" font-size="8.4" font-weight="bold" text-anchor="end" fill="#1a1a1a" stroke="#1a1a1a" stroke-width="0.25">200</text>
<line x1="383.80" y1="500.20" x2="463.10" y2="500.20" stroke="#1a1a1a" stroke-width="1.1"/>
<rect x="400.15" y="416.35" width="19.30" height="83.85" fill="#6282bd" stroke="#1a1a1a" stroke-width="1.1"/>
<line x1="409.80" y1="414.67" x2="409.80" y2="418.03" stroke="#1a1a1a" stroke-width="0.8"/>
<line x1="405.05" y1="414.67" x2="414.55" y2="414.67" stroke="#1a1a1a" stroke-width="0.8"/>
<line x1="405.05" y1="418.03" x2="414.55" y2="418.03" stroke="#000" stroke-width="0.8" stroke-opacity="0.45"/>
<circle cx="402.90" cy="417.75" r="2.00" fill="#1a1a1a" stroke="none" stroke-width="0"/>
<circle cx="409.50" cy="414.00" r="2.00" fill="#1a1a1a" stroke="none" stroke-width="0"/>
<circle cx="416.10" cy="414.95" r="2.00" fill="#1a1a1a" stroke="none" stroke-width="0"/>
<rect x="432.10" y="430.55" width="19.30" height="69.65" fill="#9ab89d" stroke="#1a1a1a" stroke-width="1.1"/>
<line x1="441.75" y1="429.37" x2="441.75" y2="431.72" stroke="#1a1a1a" stroke-width="0.8"/>
<line x1="437.00" y1="429.37" x2="446.50" y2="429.37" stroke="#1a1a1a" stroke-width="0.8"/>
<line x1="437.00" y1="431.72" x2="446.50" y2="431.72" stroke="#000" stroke-width="0.8" stroke-opacity="0.45"/>
<circle cx="438.45" cy="427.75" r="2.00" fill="#1a1a1a" stroke="none" stroke-width="0"/>
<circle cx="438.45" cy="432.28" r="2.00" fill="#1a1a1a" stroke="none" stroke-width="0"/>
<circle cx="445.55" cy="430.55" r="2.00" fill="#1a1a1a" stroke="none" stroke-width="0"/>
<text x="425.77" y="514.00" font-size="9.2" text-anchor="middle" fill="#1a1a1a" stroke="#1a1a1a" stroke-width="0.12">BGC-823</text>
<polyline points="409.80,406.80 409.80,401.50 441.75,401.50 441.75,406.80" fill="none" stroke="#1a1a1a" stroke-width="1.1"/>
<text x="425.77" y="401.90" font-size="9.0" text-anchor="middle" fill="#1a1a1a" stroke="#1a1a1a" stroke-width="0.12">***</text>
<text x="363.35" y="444.00" font-size="9.3" text-anchor="middle" fill="#1a1a1a" transform="rotate(-90 363.35 444.00)" stroke="#1a1a1a" stroke-width="0.12">ECAR (mpH/min)</text>
<text x="426.20" y="374.40" font-size="9.2" text-anchor="middle" fill="#1a1a1a" stroke="#1a1a1a" stroke-width="0.12">Glycolysis</text>
<rect x="462.30" y="393.40" width="11.40" height="5.40" fill="#6282bd" stroke="#1a1a1a" stroke-width="1.0"/>
<text x="480.40" y="399.30" font-size="9.2" text-anchor="start" fill="#1a1a1a" stroke="#1a1a1a" stroke-width="0.12">Vector</text>
<rect x="462.30" y="408.10" width="11.40" height="5.40" fill="#9ab89d" stroke="#1a1a1a" stroke-width="1.0"/>
<text x="480.40" y="414.00" font-size="9.2" text-anchor="start" fill="#1a1a1a" stroke="#1a1a1a" stroke-width="0.12">FBP2</text>
<line x1="565.70" y1="387.90" x2="565.70" y2="500.70" stroke="#1a1a1a" stroke-width="1.1"/>
<line x1="560.90" y1="500.20" x2="565.70" y2="500.20" stroke="#1a1a1a" stroke-width="1.1"/>
<text x="559.40" y="503.22" font-size="8.4" font-weight="bold" text-anchor="end" fill="#1a1a1a" stroke="#1a1a1a" stroke-width="0.25">0</text>
<line x1="560.90" y1="472.25" x2="565.70" y2="472.25" stroke="#1a1a1a" stroke-width="1.1"/>
<text x="559.40" y="475.27" font-size="8.4" font-weight="bold" text-anchor="end" fill="#1a1a1a" stroke="#1a1a1a" stroke-width="0.25">50</text>
<line x1="560.90" y1="444.30" x2="565.70" y2="444.30" stroke="#1a1a1a" stroke-width="1.1"/>
<text x="559.40" y="447.32" font-size="8.4" font-weight="bold" text-anchor="end" fill="#1a1a1a" stroke="#1a1a1a" stroke-width="0.25">100</text>
<line x1="560.90" y1="416.35" x2="565.70" y2="416.35" stroke="#1a1a1a" stroke-width="1.1"/>
<text x="559.40" y="419.37" font-size="8.4" font-weight="bold" text-anchor="end" fill="#1a1a1a" stroke="#1a1a1a" stroke-width="0.25">150</text>
<line x1="560.90" y1="388.40" x2="565.70" y2="388.40" stroke="#1a1a1a" stroke-width="1.1"/>
<text x="559.40" y="391.42" font-size="8.4" font-weight="bold" text-anchor="end" fill="#1a1a1a" stroke="#1a1a1a" stroke-width="0.25">200</text>
<line x1="560.90" y1="500.20" x2="640.20" y2="500.20" stroke="#1a1a1a" stroke-width="1.1"/>
<rect x="577.25" y="419.14" width="19.30" height="81.06" fill="#6282bd" stroke="#1a1a1a" stroke-width="1.1"/>
<line x1="586.90" y1="416.01" x2="586.90" y2="422.28" stroke="#1a1a1a" stroke-width="0.8"/>
<line x1="582.15" y1="416.01" x2="591.65" y2="416.01" stroke="#1a1a1a" stroke-width="0.8"/>
<line x1="582.15" y1="422.28" x2="591.65" y2="422.28" stroke="#000" stroke-width="0.8" stroke-opacity="0.45"/>
<circle cx="582.30" cy="415.57" r="2.00" fill="#1a1a1a" stroke="none" stroke-width="0"/>
<circle cx="589.40" cy="418.98" r="2.00" fill="#1a1a1a" stroke="none" stroke-width="0"/>
<circle cx="582.30" cy="422.05" r="2.00" fill="#1a1a1a" stroke="none" stroke-width="0"/>
<rect x="609.20" y="435.36" width="19.30" height="64.84" fill="#9ab89d" stroke="#1a1a1a" stroke-width="1.1"/>
<line x1="618.85" y1="433.12" x2="618.85" y2="437.59" stroke="#1a1a1a" stroke-width="0.8"/>
<line x1="614.10" y1="433.12" x2="623.60" y2="433.12" stroke="#1a1a1a" stroke-width="0.8"/>
<line x1="614.10" y1="437.59" x2="623.60" y2="437.59" stroke="#000" stroke-width="0.8" stroke-opacity="0.45"/>
<circle cx="619.35" cy="431.39" r="2.00" fill="#1a1a1a" stroke="none" stroke-width="0"/>
<circle cx="615.85" cy="436.75" r="2.00" fill="#1a1a1a" stroke="none" stroke-width="0"/>
<circle cx="622.65" cy="436.25" r="2.00" fill="#1a1a1a" stroke="none" stroke-width="0"/>
<text x="602.88" y="514.00" font-size="9.2" text-anchor="middle" fill="#1a1a1a" stroke="#1a1a1a" stroke-width="0.12">AGS</text>
<polyline points="586.90,405.80 586.90,400.50 618.85,400.50 618.85,405.80" fill="none" stroke="#1a1a1a" stroke-width="1.1"/>
<text x="602.88" y="401.70" font-size="9.0" text-anchor="middle" fill="#1a1a1a" stroke="#1a1a1a" stroke-width="0.12">**</text>
<text x="540.55" y="444.00" font-size="9.3" text-anchor="middle" fill="#1a1a1a" transform="rotate(-90 540.55 444.00)" stroke="#1a1a1a" stroke-width="0.12">ECAR (mpH/min)</text>
<text x="603.20" y="374.40" font-size="9.2" text-anchor="middle" fill="#1a1a1a" stroke="#1a1a1a" stroke-width="0.12">Glycolysis</text>
<rect x="639.50" y="393.40" width="11.40" height="5.40" fill="#6282bd" stroke="#1a1a1a" stroke-width="1.0"/>
<text x="657.60" y="399.30" font-size="9.2" text-anchor="start" fill="#1a1a1a" stroke="#1a1a1a" stroke-width="0.12">Vector</text>
<rect x="639.50" y="408.10" width="11.40" height="5.40" fill="#9ab89d" stroke="#1a1a1a" stroke-width="1.0"/>
<text x="657.60" y="414.00" font-size="9.2" text-anchor="start" fill="#1a1a1a" stroke="#1a1a1a" stroke-width="0.12">FBP2</text>
<text x="1.30" y="543.60" font-size="14.6" text-anchor="start" fill="#1a1a1a" stroke="#1a1a1a" stroke-width="0.12">J</text>
<line x1="33.60" y1="560.80" x2="33.60" y2="673.60" stroke="#1a1a1a" stroke-width="1.1"/>
<line x1="28.80" y1="673.10" x2="33.60" y2="673.10" stroke="#1a1a1a" stroke-width="1.1"/>
<text x="27.30" y="676.12" font-size="8.4" font-weight="bold" text-anchor="end" fill="#1a1a1a" stroke="#1a1a1a" stroke-width="0.25">0</text>
<line x1="28.80" y1="635.83" x2="33.60" y2="635.83" stroke="#1a1a1a" stroke-width="1.1"/>
<text x="27.30" y="638.86" font-size="8.4" font-weight="bold" text-anchor="end" fill="#1a1a1a" stroke="#1a1a1a" stroke-width="0.25">100</text>
<line x1="28.80" y1="598.57" x2="33.60" y2="598.57" stroke="#1a1a1a" stroke-width="1.1"/>
<text x="27.30" y="601.59" font-size="8.4" font-weight="bold" text-anchor="end" fill="#1a1a1a" stroke="#1a1a1a" stroke-width="0.25">200</text>
<line x1="28.80" y1="561.30" x2="33.60" y2="561.30" stroke="#1a1a1a" stroke-width="1.1"/>
<text x="27.30" y="564.32" font-size="8.4" font-weight="bold" text-anchor="end" fill="#1a1a1a" stroke="#1a1a1a" stroke-width="0.25">300</text>
<line x1="28.80" y1="673.10" x2="108.10" y2="673.10" stroke="#1a1a1a" stroke-width="1.1"/>
<rect x="45.15" y="579.52" width="19.30" height="93.58" fill="#6282bd" stroke="#1a1a1a" stroke-width="1.1"/>
<line x1="54.80" y1="578.59" x2="54.80" y2="580.46" stroke="#1a1a1a" stroke-width="0.8"/>
<line x1="50.05" y1="578.59" x2="59.55" y2="578.59" stroke="#1a1a1a" stroke-width="0.8"/>
<line x1="50.05" y1="580.46" x2="59.55" y2="580.46" stroke="#000" stroke-width="0.8" stroke-opacity="0.45"/>
<circle cx="51.50" cy="577.40" r="2.00" fill="#1a1a1a" stroke="none" stroke-width="0"/>
<circle cx="51.50" cy="581.20" r="2.00" fill="#1a1a1a" stroke="none" stroke-width="0"/>
<circle cx="58.10" cy="579.00" r="2.00" fill="#1a1a1a" stroke="none" stroke-width="0"/>
<rect x="77.10" y="594.47" width="19.30" height="78.63" fill="#9ab89d" stroke="#1a1a1a" stroke-width="1.1"/>
<line x1="86.75" y1="593.35" x2="86.75" y2="595.59" stroke="#1a1a1a" stroke-width="0.8"/>
<line x1="82.00" y1="593.35" x2="91.50" y2="593.35" stroke="#1a1a1a" stroke-width="0.8"/>
<line x1="82.00" y1="595.59" x2="91.50" y2="595.59" stroke="#000" stroke-width="0.8" stroke-opacity="0.45"/>
<circle cx="83.65" cy="591.82" r="2.00" fill="#1a1a1a" stroke="none" stroke-width="0"/>
<circle cx="83.65" cy="596.11" r="2.00" fill="#1a1a1a" stroke="none" stroke-width="0"/>
<circle cx="90.25" cy="594.47" r="2.00" fill="#1a1a1a" stroke="none" stroke-width="0"/>
<text x="70.78" y="686.90" font-size="9.2" text-anchor="middle" fill="#1a1a1a" stroke="#1a1a1a" stroke-width="0.12">BGC-823</text>
<polyline points="54.80,569.80 54.80,564.50 86.75,564.50 86.75,569.80" fill="none" stroke="#1a1a1a" stroke-width="1.1"/>
<text x="70.78" y="565.20" font-size="9.0" text-anchor="middle" fill="#1a1a1a" stroke="#1a1a1a" stroke-width="0.12">***</text>
<text x="8.25" y="616.90" font-size="9.3" text-anchor="middle" fill="#1a1a1a" transform="rotate(-90 8.25 616.90)" stroke="#1a1a1a" stroke-width="0.12">ECAR (mpH/min)</text>
<text x="70.60" y="547.30" font-size="9.2" text-anchor="middle" fill="#1a1a1a" stroke="#1a1a1a" stroke-width="0.12">Glycolytic Capacity</text>
<rect x="107.10" y="566.30" width="11.40" height="5.40" fill="#6282bd" stroke="#1a1a1a" stroke-width="1.0"/>
<text x="125.20" y="572.20" font-size="9.2" text-anchor="start" fill="#1a1a1a" stroke="#1a1a1a" stroke-width="0.12">Vector</text>
<rect x="107.10" y="581.00" width="11.40" height="5.40" fill="#9ab89d" stroke="#1a1a1a" stroke-width="1.0"/>
<text x="125.20" y="586.90" font-size="9.2" text-anchor="start" fill="#1a1a1a" stroke="#1a1a1a" stroke-width="0.12">FBP2</text>
<line x1="210.90" y1="560.80" x2="210.90" y2="673.60" stroke="#1a1a1a" stroke-width="1.1"/>
<line x1="206.10" y1="673.10" x2="210.90" y2="673.10" stroke="#1a1a1a" stroke-width="1.1"/>
<text x="204.60" y="676.12" font-size="8.4" font-weight="bold" text-anchor="end" fill="#1a1a1a" stroke="#1a1a1a" stroke-width="0.25">0</text>
<line x1="206.10" y1="635.83" x2="210.90" y2="635.83" stroke="#1a1a1a" stroke-width="1.1"/>
<text x="204.60" y="638.86" font-size="8.4" font-weight="bold" text-anchor="end" fill="#1a1a1a" stroke="#1a1a1a" stroke-width="0.25">100</text>
<line x1="206.10" y1="598.57" x2="210.90" y2="598.57" stroke="#1a1a1a" stroke-width="1.1"/>
<text x="204.60" y="601.59" font-size="8.4" font-weight="bold" text-anchor="end" fill="#1a1a1a" stroke="#1a1a1a" stroke-width="0.25">200</text>
<line x1="206.10" y1="561.30" x2="210.90" y2="561.30" stroke="#1a1a1a" stroke-width="1.1"/>
<text x="204.60" y="564.32" font-size="8.4" font-weight="bold" text-anchor="end" fill="#1a1a1a" stroke="#1a1a1a" stroke-width="0.25">300</text>
<line x1="206.10" y1="673.10" x2="285.40" y2="673.10" stroke="#1a1a1a" stroke-width="1.1"/>
<rect x="222.45" y="573.97" width="19.30" height="99.13" fill="#6282bd" stroke="#1a1a1a" stroke-width="1.1"/>
<line x1="232.10" y1="573.04" x2="232.10" y2="574.90" stroke="#1a1a1a" stroke-width="0.8"/>
<line x1="227.35" y1="573.04" x2="236.85" y2="573.04" stroke="#1a1a1a" stroke-width="0.8"/>
<line x1="227.35" y1="574.90" x2="236.85" y2="574.90" stroke="#000" stroke-width="0.8" stroke-opacity="0.45"/>
<circle cx="225.20" cy="575.42" r="2.00" fill="#1a1a1a" stroke="none" stroke-width="0"/>
<circle cx="232.10" cy="572.41" r="2.00" fill="#1a1a1a" stroke="none" stroke-width="0"/>
<circle cx="238.80" cy="573.11" r="2.00" fill="#1a1a1a" stroke="none" stroke-width="0"/>
<rect x="254.40" y="591.11" width="19.30" height="81.99" fill="#9ab89d" stroke="#1a1a1a" stroke-width="1.1"/>
<line x1="264.05" y1="588.50" x2="264.05" y2="593.72" stroke="#1a1a1a" stroke-width="0.8"/>
<line x1="259.30" y1="588.50" x2="268.80" y2="588.50" stroke="#1a1a1a" stroke-width="0.8"/>
<line x1="259.30" y1="593.72" x2="268.80" y2="593.72" stroke="#000" stroke-width="0.8" stroke-opacity="0.45"/>
<circle cx="260.75" cy="587.61" r="2.00" fill="#1a1a1a" stroke="none" stroke-width="0"/>
<circle cx="267.35" cy="590.11" r="2.00" fill="#1a1a1a" stroke="none" stroke-width="0"/>
<circle cx="264.05" cy="593.91" r="2.00" fill="#1a1a1a" stroke="none" stroke-width="0"/>
<text x="248.08" y="686.90" font-size="9.2" text-anchor="middle" fill="#1a1a1a" stroke="#1a1a1a" stroke-width="0.12">AGS</text>
<polyline points="232.10,565.80 232.10,560.50 264.05,560.50 264.05,565.80" fill="none" stroke="#1a1a1a" stroke-width="1.1"/>
<text x="248.08" y="561.70" font-size="9.0" text-anchor="middle" fill="#1a1a1a" stroke="#1a1a1a" stroke-width="0.12">**</text>
<text x="185.45" y="616.90" font-size="9.3" text-anchor="middle" fill="#1a1a1a" transform="rotate(-90 185.45 616.90)" stroke="#1a1a1a" stroke-width="0.12">ECAR (mpH/min)</text>
<text x="248.20" y="547.30" font-size="9.2" text-anchor="middle" fill="#1a1a1a" stroke="#1a1a1a" stroke-width="0.12">Glycolytic Capacity</text>
<rect x="284.40" y="566.30" width="11.40" height="5.40" fill="#6282bd" stroke="#1a1a1a" stroke-width="1.0"/>
<text x="302.50" y="572.20" font-size="9.2" text-anchor="start" fill="#1a1a1a" stroke="#1a1a1a" stroke-width="0.12">Vector</text>
<rect x="284.40" y="581.00" width="11.40" height="5.40" fill="#9ab89d" stroke="#1a1a1a" stroke-width="1.0"/>
<text x="302.50" y="586.90" font-size="9.2" text-anchor="start" fill="#1a1a1a" stroke="#1a1a1a" stroke-width="0.12">FBP2</text>
<text x="354.90" y="543.20" font-size="14.6" text-anchor="start" fill="#1a1a1a" stroke="#1a1a1a" stroke-width="0.12">K</text>
<line x1="390.30" y1="560.80" x2="390.30" y2="673.60" stroke="#1a1a1a" stroke-width="1.1"/>
<line x1="385.50" y1="673.10" x2="390.30" y2="673.10" stroke="#1a1a1a" stroke-width="1.1"/>
<text x="384.00" y="676.12" font-size="8.4" font-weight="bold" text-anchor="end" fill="#1a1a1a" stroke="#1a1a1a" stroke-width="0.25">0</text>
<line x1="385.50" y1="650.74" x2="390.30" y2="650.74" stroke="#1a1a1a" stroke-width="1.1"/>
<text x="384.00" y="653.76" font-size="8.4" font-weight="bold" text-anchor="end" fill="#1a1a1a" stroke="#1a1a1a" stroke-width="0.25">20</text>
<line x1="385.50" y1="628.38" x2="390.30" y2="628.38" stroke="#1a1a1a" stroke-width="1.1"/>
<text x="384.00" y="631.40" font-size="8.4" font-weight="bold" text-anchor="end" fill="#1a1a1a" stroke="#1a1a1a" stroke-width="0.25">40</text>
<line x1="385.50" y1="606.02" x2="390.30" y2="606.02" stroke="#1a1a1a" stroke-width="1.1"/>
<text x="384.00" y="609.04" font-size="8.4" font-weight="bold" text-anchor="end" fill="#1a1a1a" stroke="#1a1a1a" stroke-width="0.25">60</text>
<line x1="385.50" y1="583.66" x2="390.30" y2="583.66" stroke="#1a1a1a" stroke-width="1.1"/>
<text x="384.00" y="586.68" font-size="8.4" font-weight="bold" text-anchor="end" fill="#1a1a1a" stroke="#1a1a1a" stroke-width="0.25">80</text>
<line x1="385.50" y1="561.30" x2="390.30" y2="561.30" stroke="#1a1a1a" stroke-width="1.1"/>
<text x="384.00" y="564.32" font-size="8.4" font-weight="bold" text-anchor="end" fill="#1a1a1a" stroke="#1a1a1a" stroke-width="0.25">100</text>
<line x1="385.50" y1="673.10" x2="464.80" y2="673.10" stroke="#1a1a1a" stroke-width="1.1"/>
<rect x="401.85" y="586.23" width="19.30" height="86.87" fill="#6282bd" stroke="#1a1a1a" stroke-width="1.1"/>
<line x1="411.50" y1="582.09" x2="411.50" y2="590.37" stroke="#1a1a1a" stroke-width="0.8"/>
<line x1="406.75" y1="582.09" x2="416.25" y2="582.09" stroke="#1a1a1a" stroke-width="0.8"/>
<line x1="406.75" y1="590.37" x2="416.25" y2="590.37" stroke="#000" stroke-width="0.8" stroke-opacity="0.45"/>
<circle cx="407.50" cy="582.43" r="2.00" fill="#1a1a1a" stroke="none" stroke-width="0"/>
<circle cx="414.60" cy="583.55" r="2.00" fill="#1a1a1a" stroke="none" stroke-width="0"/>
<circle cx="411.50" cy="590.26" r="2.00" fill="#1a1a1a" stroke="none" stroke-width="0"/>
<rect x="433.80" y="599.20" width="19.30" height="73.90" fill="#9ab89d" stroke="#1a1a1a" stroke-width="1.1"/>
<line x1="443.45" y1="595.96" x2="443.45" y2="602.44" stroke="#1a1a1a" stroke-width="0.8"/>
<line x1="438.70" y1="595.96" x2="448.20" y2="595.96" stroke="#1a1a1a" stroke-width="0.8"/>
<line x1="438.70" y1="602.44" x2="448.20" y2="602.44" stroke="#000" stroke-width="0.8" stroke-opacity="0.45"/>
<circle cx="443.45" cy="595.06" r="2.00" fill="#1a1a1a" stroke="none" stroke-width="0"/>
<circle cx="446.95" cy="598.86" r="2.00" fill="#1a1a1a" stroke="none" stroke-width="0"/>
<circle cx="440.05" cy="601.55" r="2.00" fill="#1a1a1a" stroke="none" stroke-width="0"/>
<text x="427.48" y="686.90" font-size="9.2" text-anchor="middle" fill="#1a1a1a" stroke="#1a1a1a" stroke-width="0.12">BGC-823</text>
<polyline points="411.50,574.80 411.50,569.50 443.45,569.50 443.45,574.80" fill="none" stroke="#1a1a1a" stroke-width="1.1"/>
<text x="427.48" y="570.20" font-size="9.0" text-anchor="middle" fill="#1a1a1a" stroke="#1a1a1a" stroke-width="0.12">*</text>
<text x="364.75" y="616.90" font-size="9.3" text-anchor="middle" fill="#1a1a1a" transform="rotate(-90 364.75 616.90)" stroke="#1a1a1a" stroke-width="0.12">ECAR (mpH/min)</text>
<text x="427.30" y="547.30" font-size="9.2" text-anchor="middle" fill="#1a1a1a" stroke="#1a1a1a" stroke-width="0.12">Glycolytic Reserve</text>
<rect x="464.10" y="566.30" width="11.40" height="5.40" fill="#6282bd" stroke="#1a1a1a" stroke-width="1.0"/>
<text x="482.20" y="572.20" font-size="9.2" text-anchor="start" fill="#1a1a1a" stroke="#1a1a1a" stroke-width="0.12">Vector</text>
<rect x="464.10" y="581.00" width="11.40" height="5.40" fill="#9ab89d" stroke="#1a1a1a" stroke-width="1.0"/>
<text x="482.20" y="586.90" font-size="9.2" text-anchor="start" fill="#1a1a1a" stroke="#1a1a1a" stroke-width="0.12">FBP2</text>
<line x1="560.90" y1="560.80" x2="560.90" y2="673.60" stroke="#1a1a1a" stroke-width="1.1"/>
<line x1="556.10" y1="673.10" x2="560.90" y2="673.10" stroke="#1a1a1a" stroke-width="1.1"/>
<text x="554.60" y="676.12" font-size="8.4" font-weight="bold" text-anchor="end" fill="#1a1a1a" stroke="#1a1a1a" stroke-width="0.25">0</text>
<line x1="556.10" y1="645.15" x2="560.90" y2="645.15" stroke="#1a1a1a" stroke-width="1.1"/>
<text x="554.60" y="648.17" font-size="8.4" font-weight="bold" text-anchor="end" fill="#1a1a1a" stroke="#1a1a1a" stroke-width="0.25">20</text>
<line x1="556.10" y1="617.20" x2="560.90" y2="617.20" stroke="#1a1a1a" stroke-width="1.1"/>
<text x="554.60" y="620.22" font-size="8.4" font-weight="bold" text-anchor="end" fill="#1a1a1a" stroke="#1a1a1a" stroke-width="0.25">40</text>
<line x1="556.10" y1="589.25" x2="560.90" y2="589.25" stroke="#1a1a1a" stroke-width="1.1"/>
<text x="554.60" y="592.27" font-size="8.4" font-weight="bold" text-anchor="end" fill="#1a1a1a" stroke="#1a1a1a" stroke-width="0.25">60</text>
<line x1="556.10" y1="561.30" x2="560.90" y2="561.30" stroke="#1a1a1a" stroke-width="1.1"/>
<text x="554.60" y="564.32" font-size="8.4" font-weight="bold" text-anchor="end" fill="#1a1a1a" stroke="#1a1a1a" stroke-width="0.25">80</text>
<line x1="556.10" y1="673.10" x2="635.40" y2="673.10" stroke="#1a1a1a" stroke-width="1.1"/>
<rect x="572.45" y="581.14" width="19.30" height="91.96" fill="#6282bd" stroke="#1a1a1a" stroke-width="1.1"/>
<line x1="582.10" y1="576.67" x2="582.10" y2="585.62" stroke="#1a1a1a" stroke-width="0.8"/>
<line x1="577.35" y1="576.67" x2="586.85" y2="576.67" stroke="#1a1a1a" stroke-width="0.8"/>
<line x1="577.35" y1="585.62" x2="586.85" y2="585.62" stroke="#000" stroke-width="0.8" stroke-opacity="0.45"/>
<circle cx="578.70" cy="577.23" r="2.00" fill="#1a1a1a" stroke="none" stroke-width="0"/>
<circle cx="585.30" cy="579.75" r="2.00" fill="#1a1a1a" stroke="none" stroke-width="0"/>
<circle cx="581.80" cy="585.48" r="2.00" fill="#1a1a1a" stroke="none" stroke-width="0"/>
<rect x="604.40" y="595.26" width="19.30" height="77.84" fill="#9ab89d" stroke="#1a1a1a" stroke-width="1.1"/>
<line x1="614.05" y1="591.77" x2="614.05" y2="598.75" stroke="#1a1a1a" stroke-width="0.8"/>
<line x1="609.30" y1="591.77" x2="618.80" y2="591.77" stroke="#1a1a1a" stroke-width="0.8"/>
<line x1="609.30" y1="598.75" x2="618.80" y2="598.75" stroke="#000" stroke-width="0.8" stroke-opacity="0.45"/>
<circle cx="614.05" cy="590.09" r="2.00" fill="#1a1a1a" stroke="none" stroke-width="0"/>
<circle cx="610.55" cy="597.63" r="2.00" fill="#1a1a1a" stroke="none" stroke-width="0"/>
<circle cx="617.15" cy="597.63" r="2.00" fill="#1a1a1a" stroke="none" stroke-width="0"/>
<text x="598.07" y="686.90" font-size="9.2" text-anchor="middle" fill="#1a1a1a" stroke="#1a1a1a" stroke-width="0.12">AGS</text>
<polyline points="582.10,569.80 582.10,564.50 614.05,564.50 614.05,569.80" fill="none" stroke="#1a1a1a" stroke-width="1.1"/>
<text x="598.07" y="565.20" font-size="9.0" text-anchor="middle" fill="#1a1a1a" stroke="#1a1a1a" stroke-width="0.12">*</text>
<text x="540.55" y="616.90" font-size="9.3" text-anchor="middle" fill="#1a1a1a" transform="rotate(-90 540.55 616.90)" stroke="#1a1a1a" stroke-width="0.12">ECAR (mpH/min)</text>
<text x="598.30" y="547.30" font-size="9.2" text-anchor="middle" fill="#1a1a1a" stroke="#1a1a1a" stroke-width="0.12">Glycolytic Reserve</text>
<rect x="634.90" y="566.30" width="11.40" height="5.40" fill="#6282bd" stroke="#1a1a1a" stroke-width="1.0"/>
<text x="653.00" y="572.20" font-size="9.2" text-anchor="start" fill="#1a1a1a" stroke="#1a1a1a" stroke-width="0.12">Vector</text>
<rect x="634.90" y="581.00" width="11.40" height="5.40" fill="#9ab89d" stroke="#1a1a1a" stroke-width="1.0"/>
<text x="653.00" y="586.90" font-size="9.2" text-anchor="start" fill="#1a1a1a" stroke="#1a1a1a" stroke-width="0.12">FBP2</text>
</svg></body></html>
